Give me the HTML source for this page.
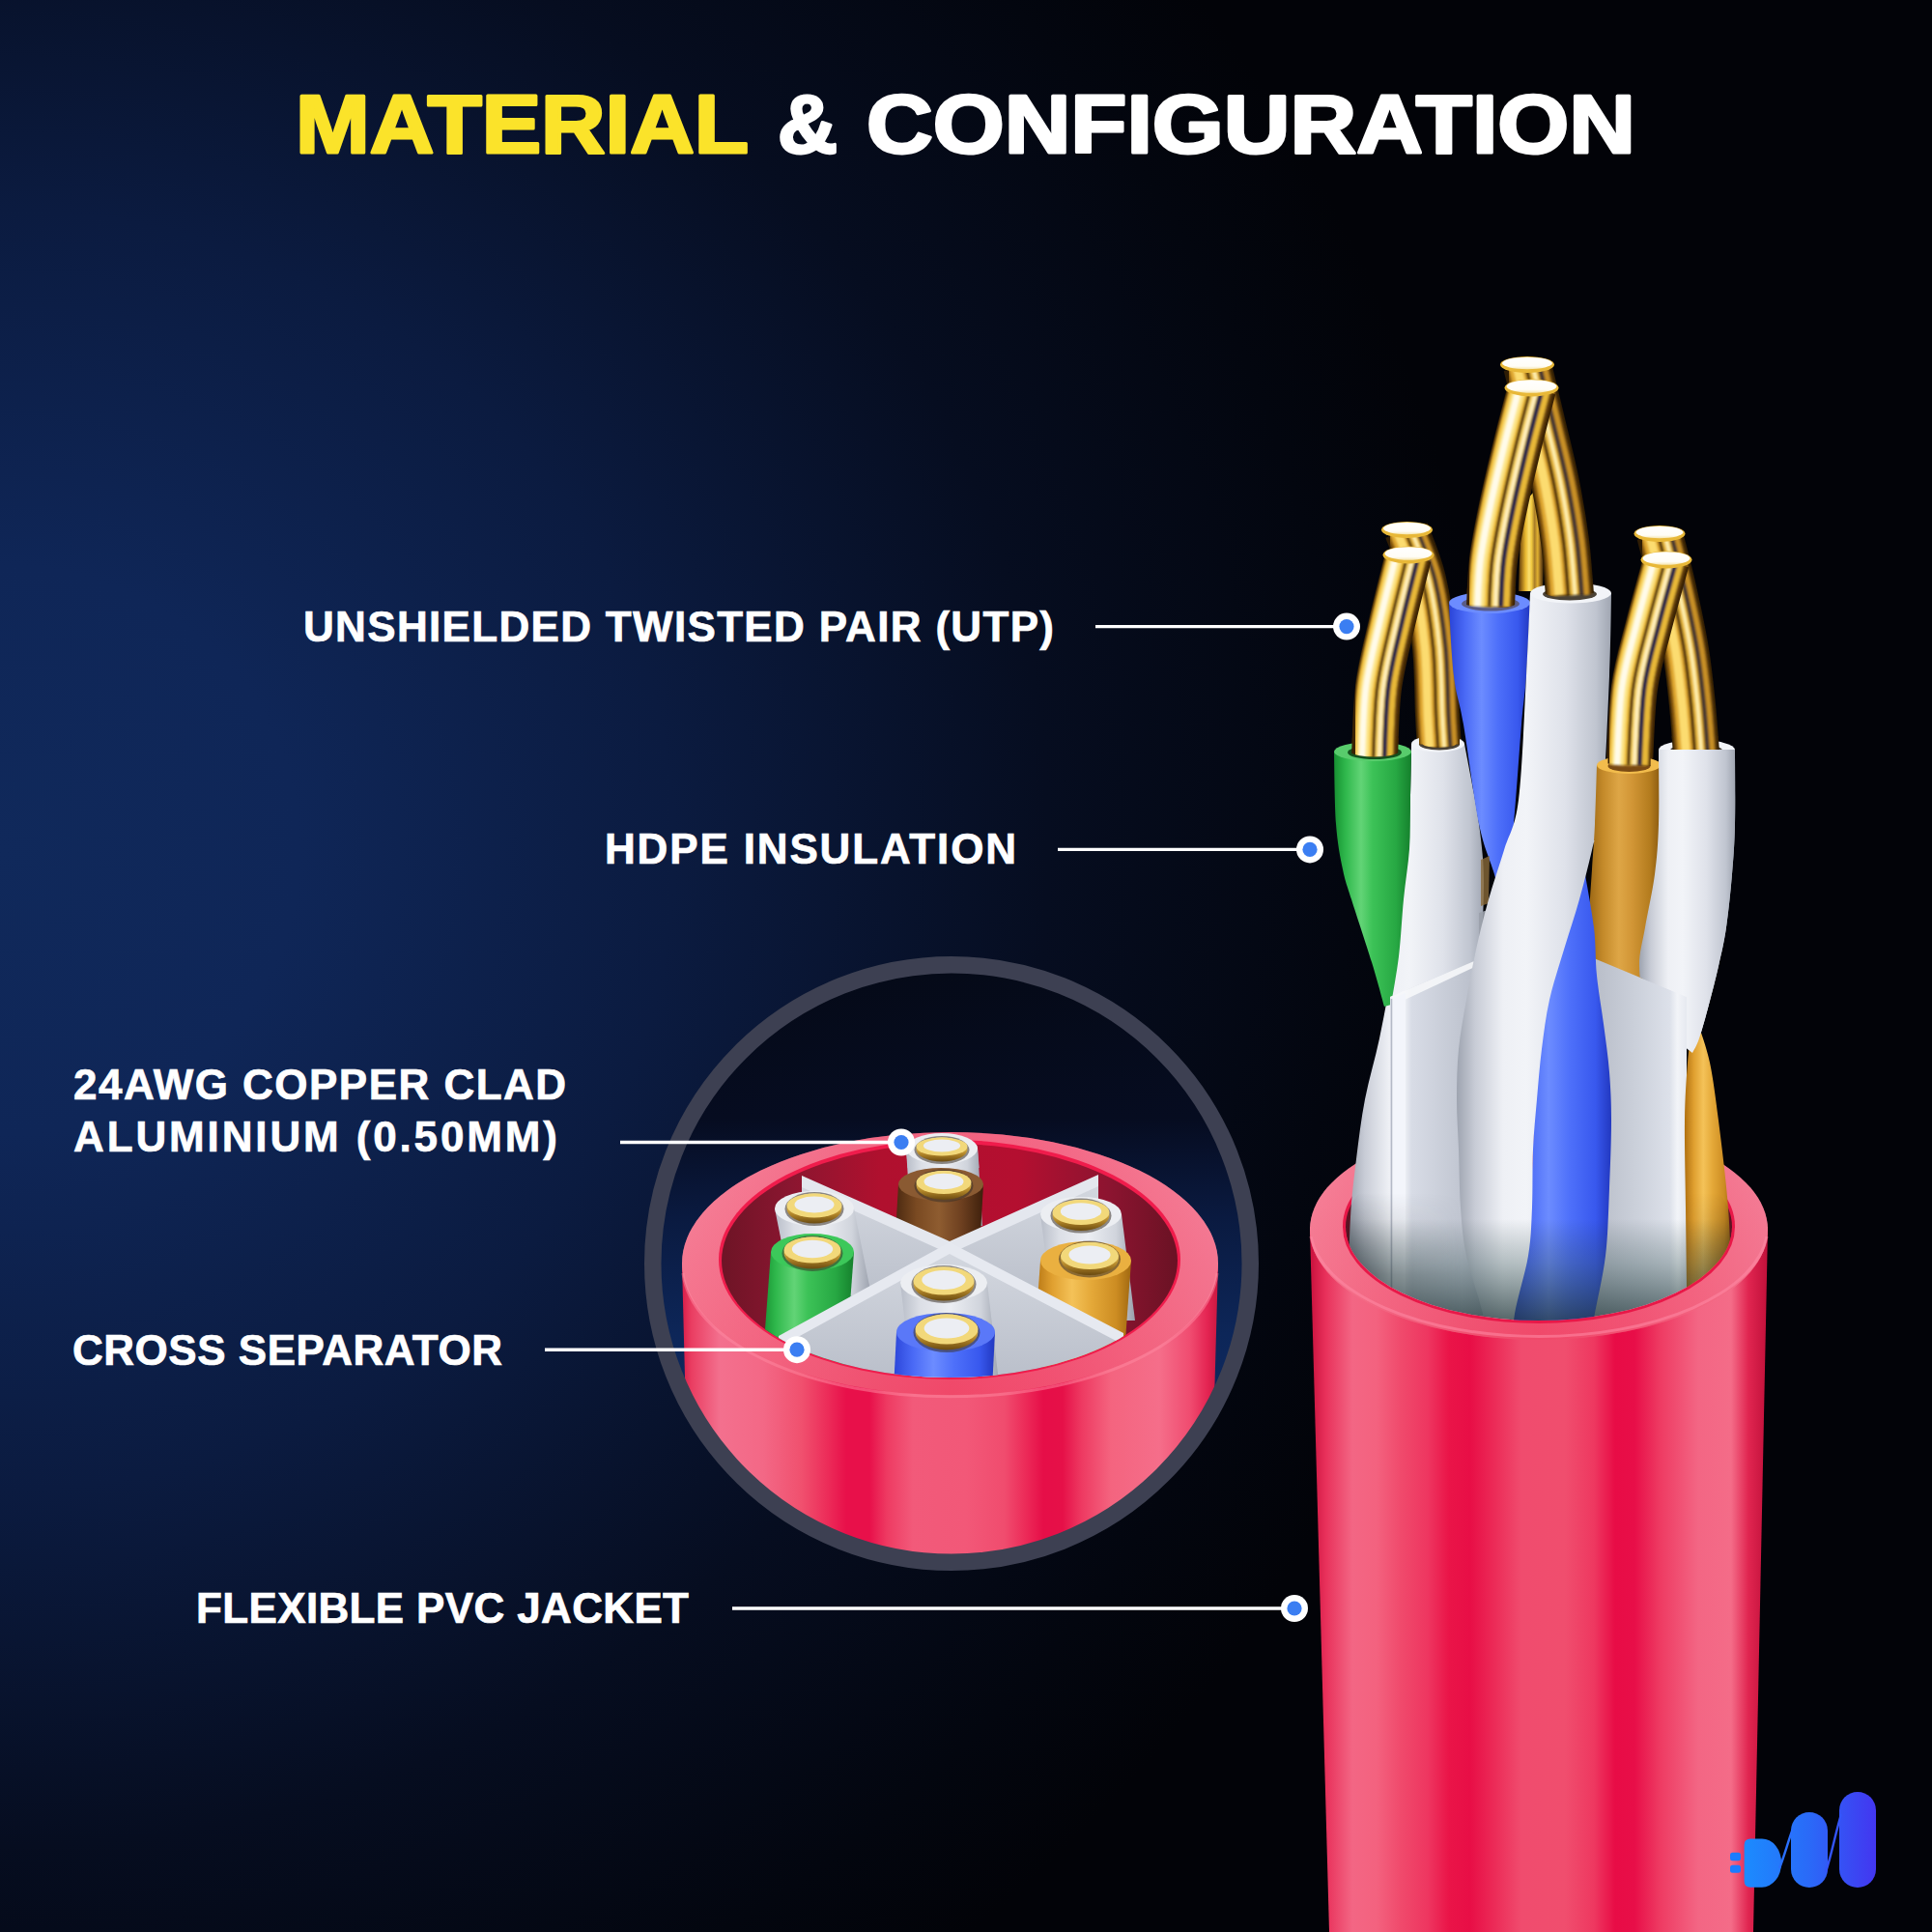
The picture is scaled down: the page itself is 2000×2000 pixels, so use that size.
<!DOCTYPE html>
<html><head><meta charset="utf-8">
<style>
html,body{margin:0;padding:0;background:#03050b;}
body{width:2000px;height:2000px;overflow:hidden;}
svg{display:block;}
.lb{font-family:"Liberation Sans",sans-serif;font-weight:bold;fill:#fff;}
</style></head><body>
<svg width="2000" height="2000" viewBox="0 0 2000 2000">
<defs><radialGradient id="bg" gradientUnits="userSpaceOnUse" cx="0" cy="880" r="1550" gradientTransform="translate(0 880) scale(1 0.95) translate(0 -880)">
<stop offset="0" stop-color="#10295b"/><stop offset="0.2" stop-color="#0f2657"/><stop offset="0.45" stop-color="#0b1b40"/>
<stop offset="0.7" stop-color="#060d20"/><stop offset="0.9" stop-color="#03060f"/><stop offset="1" stop-color="#020308"/></radialGradient>
<linearGradient id="cin" gradientUnits="userSpaceOnUse" x1="0" y1="1007" x2="0" y2="1610">
<stop offset="0" stop-color="#050a18"/><stop offset="0.25" stop-color="#060c20"/><stop offset="0.42" stop-color="#0a1a40"/><stop offset="0.62" stop-color="#0d2658"/><stop offset="1" stop-color="#10306e"/></linearGradient>
<linearGradient id="gold" x1="0" y1="0" x2="1" y2="0"><stop offset="0" stop-color="#5a3a0a"/><stop offset="0.07" stop-color="#b8861e"/><stop offset="0.16" stop-color="#f4cc40"/><stop offset="0.26" stop-color="#fff4b8"/><stop offset="0.33" stop-color="#ffe880"/><stop offset="0.42" stop-color="#d8a828"/><stop offset="0.5" stop-color="#6a5238"/><stop offset="0.56" stop-color="#3c3448"/><stop offset="0.63" stop-color="#a07c30"/><stop offset="0.74" stop-color="#f2c840"/><stop offset="0.84" stop-color="#ffe678"/><stop offset="0.93" stop-color="#c08a1c"/><stop offset="1" stop-color="#5a3a08"/></linearGradient>
<linearGradient id="goldb" x1="0" y1="0" x2="1" y2="0"><stop offset="0" stop-color="#4a300a"/><stop offset="0.12" stop-color="#9a6c18"/><stop offset="0.28" stop-color="#e8b830"/><stop offset="0.42" stop-color="#fce070"/><stop offset="0.52" stop-color="#f0c840"/><stop offset="0.64" stop-color="#a87c28"/><stop offset="0.76" stop-color="#e0b030"/><stop offset="0.88" stop-color="#8a6020"/><stop offset="1" stop-color="#3a2606"/></linearGradient>
<linearGradient id="goldtip" x1="0" y1="0" x2="0" y2="1"><stop offset="0" stop-color="#ffffff"/><stop offset="0.75" stop-color="#fffdf6"/><stop offset="1" stop-color="#f6e6b0"/></linearGradient>
<linearGradient id="goldring" x1="0" y1="0" x2="0" y2="1"><stop offset="0" stop-color="#fff0a8"/><stop offset="0.35" stop-color="#e8c458"/><stop offset="0.7" stop-color="#b08428"/><stop offset="1" stop-color="#6a4a10"/></linearGradient>
<linearGradient id="wht" x1="0" y1="0" x2="1" y2="0"><stop offset="0" stop-color="#9ea4b0"/><stop offset="0.12" stop-color="#c8ccd6"/><stop offset="0.3" stop-color="#eef0f5"/><stop offset="0.45" stop-color="#f2f4f8"/><stop offset="0.7" stop-color="#dfe2ea"/><stop offset="0.9" stop-color="#c0c5d0"/><stop offset="1" stop-color="#a0a6b2"/></linearGradient>
<linearGradient id="wht2" x1="0" y1="0" x2="1" y2="0"><stop offset="0" stop-color="#b8bdc8"/><stop offset="0.2" stop-color="#dcdfe6"/><stop offset="0.5" stop-color="#eceef3"/><stop offset="0.8" stop-color="#d0d4dc"/><stop offset="1" stop-color="#9aa0ac"/></linearGradient>
<linearGradient id="grn" x1="0" y1="0" x2="1" y2="0"><stop offset="0" stop-color="#179032"/><stop offset="0.15" stop-color="#2fb84c"/><stop offset="0.35" stop-color="#62d476"/><stop offset="0.5" stop-color="#3cc257"/><stop offset="0.8" stop-color="#27a843"/><stop offset="1" stop-color="#15802c"/></linearGradient>
<linearGradient id="blu" x1="0" y1="0" x2="1" y2="0"><stop offset="0" stop-color="#2a44d8"/><stop offset="0.2" stop-color="#4a6af6"/><stop offset="0.4" stop-color="#6c8cff"/><stop offset="0.6" stop-color="#4e70fa"/><stop offset="0.85" stop-color="#3858ee"/><stop offset="1" stop-color="#2238c0"/></linearGradient>
<linearGradient id="org" x1="0" y1="0" x2="1" y2="0"><stop offset="0" stop-color="#b07010"/><stop offset="0.2" stop-color="#e0a030"/><stop offset="0.4" stop-color="#f4c258"/><stop offset="0.6" stop-color="#e4a838"/><stop offset="0.85" stop-color="#cc8c22"/><stop offset="1" stop-color="#a06810"/></linearGradient>
<linearGradient id="org2" x1="0" y1="0" x2="1" y2="0"><stop offset="0" stop-color="#9a6614"/><stop offset="0.2" stop-color="#c48a2a"/><stop offset="0.42" stop-color="#dea646"/><stop offset="0.6" stop-color="#d29636"/><stop offset="0.85" stop-color="#b47c1e"/><stop offset="1" stop-color="#8a5a10"/></linearGradient>
<linearGradient id="brn" x1="0" y1="0" x2="1" y2="0"><stop offset="0" stop-color="#4a2810"/><stop offset="0.25" stop-color="#7a4a22"/><stop offset="0.5" stop-color="#8e5c30"/><stop offset="0.75" stop-color="#6e4020"/><stop offset="1" stop-color="#3e200c"/></linearGradient>
<linearGradient id="sepL" x1="0" y1="0" x2="1" y2="0"><stop offset="0" stop-color="#e8ebf2"/><stop offset="0.12" stop-color="#f4f6fa"/><stop offset="0.2" stop-color="#d8dce6"/><stop offset="0.6" stop-color="#c4c9d4"/><stop offset="1" stop-color="#aeb3c0"/></linearGradient>
<linearGradient id="sepR" x1="0" y1="0" x2="1" y2="0"><stop offset="0" stop-color="#b8bdc8"/><stop offset="0.5" stop-color="#cdd2dc"/><stop offset="0.82" stop-color="#dde1ea"/><stop offset="0.9" stop-color="#f2f4f8"/><stop offset="1" stop-color="#e6e9f0"/></linearGradient>
<linearGradient id="sepface" x1="0" y1="0" x2="0" y2="1"><stop offset="0" stop-color="#d4d8e0"/><stop offset="1" stop-color="#a8aebb"/></linearGradient>
<linearGradient id="tube" gradientUnits="userSpaceOnUse" x1="1358" y1="0" x2="1828" y2="0"><stop offset="0.0000" stop-color="#cc1440"/><stop offset="0.0298" stop-color="#e8305a"/><stop offset="0.0894" stop-color="#f36684"/><stop offset="0.1426" stop-color="#f3627f"/><stop offset="0.1957" stop-color="#f04a6c"/><stop offset="0.2553" stop-color="#ee3660"/><stop offset="0.3021" stop-color="#ea1448"/><stop offset="0.3489" stop-color="#e80e46"/><stop offset="0.4043" stop-color="#ec2c58"/><stop offset="0.4617" stop-color="#f04c6e"/><stop offset="0.5574" stop-color="#f04e6e"/><stop offset="0.6213" stop-color="#ee3860"/><stop offset="0.6681" stop-color="#e80c46"/><stop offset="0.7106" stop-color="#e80e48"/><stop offset="0.7660" stop-color="#ee3a62"/><stop offset="0.8511" stop-color="#f36684"/><stop offset="0.9234" stop-color="#f46c88"/><stop offset="0.9617" stop-color="#e02550"/><stop offset="1.0000" stop-color="#c4123c"/></linearGradient>
<linearGradient id="cs" gradientUnits="userSpaceOnUse" x1="706" y1="0" x2="1262" y2="0"><stop offset="0.0000" stop-color="#d81c48"/><stop offset="0.0180" stop-color="#ea3e62"/><stop offset="0.0701" stop-color="#f3708e"/><stop offset="0.1511" stop-color="#f36886"/><stop offset="0.2230" stop-color="#f0506e"/><stop offset="0.2734" stop-color="#ec2a58"/><stop offset="0.3058" stop-color="#e8104a"/><stop offset="0.3489" stop-color="#e8104a"/><stop offset="0.3813" stop-color="#ee3a62"/><stop offset="0.4299" stop-color="#f25a7a"/><stop offset="0.5288" stop-color="#f25878"/><stop offset="0.6007" stop-color="#f04c6e"/><stop offset="0.6403" stop-color="#ec2a58"/><stop offset="0.6727" stop-color="#e60e48"/><stop offset="0.7086" stop-color="#e61048"/><stop offset="0.7446" stop-color="#ee3a62"/><stop offset="0.7986" stop-color="#f4647f"/><stop offset="0.8885" stop-color="#f56e8a"/><stop offset="0.9460" stop-color="#f04c70"/><stop offset="0.9784" stop-color="#e42452"/><stop offset="1.0000" stop-color="#c8163e"/></linearGradient>
<linearGradient id="rim" x1="0" y1="0" x2="1" y2="0"><stop offset="0" stop-color="#f78fa2"/><stop offset="0.15" stop-color="#f47890"/><stop offset="0.35" stop-color="#f05a78"/><stop offset="0.5" stop-color="#f04c6c"/><stop offset="0.7" stop-color="#f25a7a"/><stop offset="0.88" stop-color="#f47890"/><stop offset="1" stop-color="#f48aa0"/></linearGradient>
<linearGradient id="rimv" x1="0" y1="0" x2="0" y2="1"><stop offset="0" stop-color="#f57e98"/><stop offset="0.5" stop-color="#f25c7c"/><stop offset="1" stop-color="#f04466"/></linearGradient>
<linearGradient id="innerwall" x1="0" y1="0" x2="1" y2="0"><stop offset="0" stop-color="#6e1426"/><stop offset="0.15" stop-color="#8a1630"/><stop offset="0.35" stop-color="#b0102e"/><stop offset="0.65" stop-color="#b40f30"/><stop offset="0.85" stop-color="#8c1430"/><stop offset="1" stop-color="#6a1224"/></linearGradient>
<filter id="soft" x="-10%" y="-10%" width="120%" height="120%"><feGaussianBlur stdDeviation="0.9"/></filter>
<clipPath id="cclip"><circle cx="985" cy="1308" r="301.5"/></clipPath>
<clipPath id="iclip"><ellipse cx="983" cy="1305" rx="236" ry="121"/></clipPath>
<clipPath id="topw"><rect x="900" y="1150" width="160" height="59"/></clipPath>
<clipPath id="hc1"><ellipse cx="1490.0" cy="769.0" rx="18.5" ry="5.0"/><rect x="1469.0" y="757" width="42.0" height="13.5"/></clipPath>
<clipPath id="hc2"><ellipse cx="1423.0" cy="777.5" rx="25.5" ry="6.0"/><rect x="1395.0" y="764" width="56.0" height="15.0"/></clipPath>
<clipPath id="hc3"><ellipse cx="1543.0" cy="623.5" rx="27.5" ry="6.5"/><rect x="1513.0" y="609" width="60.0" height="16.0"/></clipPath>
<clipPath id="hc4"><ellipse cx="1756.0" cy="775.5" rx="24.5" ry="6.0"/><rect x="1729.0" y="762" width="54.0" height="15.0"/></clipPath>
<clipPath id="hc5"><ellipse cx="1686.5" cy="791.5" rx="19.5" ry="5.0"/><rect x="1664.5" y="779" width="44.0" height="14.0"/></clipPath>
<clipPath id="hc6"><ellipse cx="1625.0" cy="613.5" rx="25.5" ry="5.5"/><rect x="1597.0" y="599" width="56.0" height="16.0"/></clipPath>
<clipPath id="orgtop"><rect x="1640" y="700" width="90" height="170"/></clipPath>
<clipPath id="rwup"><path d="M1690,700 L1812,700 L1812,1120 L1746.5,1120 L1746.5,1032 L1690,1008.7 Z"/></clipPath>
<clipPath id="jclip"><ellipse cx="1593" cy="1270" rx="200" ry="97"/></clipPath>
<linearGradient id="opensh" x1="0" y1="0" x2="0" y2="1"><stop offset="0" stop-color="#203838" stop-opacity="0"/><stop offset="0.4" stop-color="#2a4848" stop-opacity="0.3"/><stop offset="1" stop-color="#1a2e30" stop-opacity="0.78"/></linearGradient>
<linearGradient id="opensh2" x1="0" y1="0" x2="1" y2="0"><stop offset="0" stop-color="#0a1014" stop-opacity="0.55"/><stop offset="0.12" stop-color="#141c20" stop-opacity="0.25"/><stop offset="0.3" stop-color="#141c20" stop-opacity="0"/><stop offset="0.85" stop-color="#141c20" stop-opacity="0"/><stop offset="1" stop-color="#0a1014" stop-opacity="0.45"/></linearGradient>
<linearGradient id="vfadeG" gradientUnits="userSpaceOnUse" x1="0" y1="1235" x2="0" y2="1320"><stop offset="0" stop-color="#000"/><stop offset="1" stop-color="#fff"/></linearGradient>
<mask id="vfade" maskUnits="userSpaceOnUse" x="1380" y="1150" width="430" height="260"><rect x="1380" y="1150" width="430" height="260" fill="url(#vfadeG)"/></mask>
<mask id="tmask" maskUnits="userSpaceOnUse" x="0" y="0" width="2000" height="2000"><rect x="0" y="0" width="2000" height="2000" fill="#fff"/><ellipse cx="1593" cy="1270" rx="200" ry="97" fill="#000"/></mask>
<clipPath id="tclip"><rect x="1300" y="1270" width="600" height="800"/></clipPath>
<linearGradient id="logo" gradientUnits="userSpaceOnUse" x1="1800" y1="0" x2="1945" y2="0"><stop offset="0" stop-color="#1a8eff"/><stop offset="0.5" stop-color="#2a6af8"/><stop offset="1" stop-color="#4434f0"/></linearGradient></defs>
<rect x="0" y="0" width="2000" height="2000" fill="url(#bg)"/>
<circle cx="985" cy="1308" r="301.5" fill="url(#cin)"/>
<g clip-path="url(#cclip)"><path d="M706,1308 L716,1700 L1250,1700 L1261,1308 Z" fill="url(#cs)"/><ellipse cx="983.5" cy="1308" rx="277.5" ry="136" fill="url(#rim)"/><ellipse cx="983.5" cy="1308" rx="277.5" ry="136" fill="url(#rimv)" opacity="0.45"/><path d="M707,1318 A277,136 0 0 0 1260,1318" fill="none" stroke="#ff8aa2" stroke-width="3" opacity="0.5"/><ellipse cx="983" cy="1304" rx="239" ry="124" fill="#f01c4c"/><ellipse cx="983" cy="1305" rx="236" ry="121" fill="url(#innerwall)"/><g clip-path="url(#iclip)"><path d="M938.0,1189.0 L943.0,1269.0 L1017.0,1269.0 L1012.0,1189.0 Z" fill="url(#wht2)"/><ellipse cx="975.0" cy="1189.0" rx="37.0" ry="16.0" fill="#eceef2"/><ellipse cx="975.0" cy="1190.5" rx="28.5" ry="14.5" fill="#3a3228" opacity="0.55"/><ellipse cx="975.0" cy="1190.0" rx="26.5" ry="12.5" fill="url(#goldring)"/><ellipse cx="975.0" cy="1187.0" rx="26.5" ry="9.5" fill="#f2d87a"/><ellipse cx="975.0" cy="1186.0" rx="19.1" ry="6.5" fill="#eceef3"/><path d="M930.0,1226.0 L926.0,1296.0 L1014.0,1296.0 L1018.0,1226.0 Z" fill="url(#brn)"/><ellipse cx="974.0" cy="1226.0" rx="44.0" ry="17.0" fill="#8a5a32"/><ellipse cx="977.0" cy="1227.5" rx="30.5" ry="17.0" fill="#3a3228" opacity="0.55"/><ellipse cx="977.0" cy="1227.0" rx="28.5" ry="15.0" fill="url(#goldring)"/><ellipse cx="977.0" cy="1224.0" rx="28.5" ry="12.0" fill="#f2d87a"/><ellipse cx="977.0" cy="1223.0" rx="20.5" ry="8.2" fill="#eceef3"/><path d="M830,1223 L983,1292 L983,1430 L830,1360 Z" fill="url(#sepface)"/><path d="M1137,1222 L983,1292 L983,1430 L1137,1360 Z" fill="url(#sepface)"/><path d="M830,1217 L983,1285 L1137,1216 L1137,1228 L983,1298 L830,1229 Z" fill="#e4e7ee"/><path d="M802.0,1251.0 L820.0,1341.0 L902.0,1341.0 L884.0,1251.0 Z" fill="url(#wht2)"/><ellipse cx="843.0" cy="1251.0" rx="41.0" ry="18.0" fill="#eceef2"/><ellipse cx="843.0" cy="1251.5" rx="30.5" ry="17.5" fill="#3a3228" opacity="0.55"/><ellipse cx="843.0" cy="1251.0" rx="28.5" ry="15.5" fill="url(#goldring)"/><ellipse cx="843.0" cy="1248.0" rx="28.5" ry="12.5" fill="#f2d87a"/><ellipse cx="843.0" cy="1247.0" rx="20.5" ry="8.5" fill="#eceef3"/><path d="M798.0,1296.0 L789.0,1416.0 L875.0,1416.0 L884.0,1296.0 Z" fill="url(#grn)"/><ellipse cx="841.0" cy="1296.0" rx="43.0" ry="19.0" fill="#3cc85a"/><ellipse cx="841.0" cy="1297.5" rx="31.5" ry="18.5" fill="#3a3228" opacity="0.55"/><ellipse cx="841.0" cy="1297.0" rx="29.5" ry="16.5" fill="url(#goldring)"/><ellipse cx="841.0" cy="1294.0" rx="29.5" ry="13.5" fill="#f2d87a"/><ellipse cx="841.0" cy="1293.0" rx="21.2" ry="9.2" fill="#eceef3"/><path d="M1077.0,1257.0 L1091.0,1367.0 L1175.0,1367.0 L1161.0,1257.0 Z" fill="url(#wht2)"/><ellipse cx="1119.0" cy="1257.0" rx="42.0" ry="18.0" fill="#eceef2"/><ellipse cx="1119.0" cy="1258.5" rx="31.5" ry="18.0" fill="#3a3228" opacity="0.55"/><ellipse cx="1119.0" cy="1258.0" rx="29.5" ry="16.0" fill="url(#goldring)"/><ellipse cx="1119.0" cy="1255.0" rx="29.5" ry="13.0" fill="#f2d87a"/><ellipse cx="1119.0" cy="1254.0" rx="21.2" ry="8.8" fill="#eceef3"/><path d="M1077.0,1305.0 L1069.0,1415.0 L1163.0,1415.0 L1171.0,1305.0 Z" fill="url(#org)"/><ellipse cx="1124.0" cy="1305.0" rx="47.0" ry="20.0" fill="#eab040"/><ellipse cx="1128.0" cy="1303.5" rx="32.0" ry="19.0" fill="#3a3228" opacity="0.55"/><ellipse cx="1128.0" cy="1303.0" rx="30.0" ry="17.0" fill="url(#goldring)"/><ellipse cx="1128.0" cy="1300.0" rx="30.0" ry="14.0" fill="#f2d87a"/><ellipse cx="1128.0" cy="1299.0" rx="21.6" ry="9.5" fill="#eceef3"/><path d="M806,1389 L983,1292 L983,1460 L806,1520 Z" fill="url(#sepface)"/><path d="M1163,1386 L983,1292 L983,1460 L1163,1520 Z" fill="url(#sepface)"/><path d="M806,1383 L983,1286 L1163,1380 L1163,1392 L983,1298 L806,1395 Z" fill="#e6e9f0"/><path d="M932.0,1328.0 L946.0,1448.0 L1036.0,1448.0 L1022.0,1328.0 Z" fill="url(#wht2)"/><ellipse cx="977.0" cy="1328.0" rx="45.0" ry="19.0" fill="#eceef2"/><ellipse cx="977.0" cy="1329.5" rx="33.5" ry="19.5" fill="#3a3228" opacity="0.55"/><ellipse cx="977.0" cy="1329.0" rx="31.5" ry="17.5" fill="url(#goldring)"/><ellipse cx="977.0" cy="1326.0" rx="31.5" ry="14.5" fill="#f2d87a"/><ellipse cx="977.0" cy="1325.0" rx="22.7" ry="9.9" fill="#eceef3"/><path d="M928.0,1379.0 L924.0,1459.0 L1026.0,1459.0 L1030.0,1379.0 Z" fill="url(#blu)"/><ellipse cx="979.0" cy="1379.0" rx="51.0" ry="20.0" fill="#5a78f8"/><ellipse cx="980.0" cy="1379.5" rx="34.5" ry="20.5" fill="#3a3228" opacity="0.55"/><ellipse cx="980.0" cy="1379.0" rx="32.5" ry="18.5" fill="url(#goldring)"/><ellipse cx="980.0" cy="1376.0" rx="32.5" ry="15.5" fill="#f2d87a"/><ellipse cx="980.0" cy="1375.0" rx="23.4" ry="10.5" fill="#eceef3"/></g><g clip-path="url(#topw)"><path d="M938.0,1189.0 L943.0,1249.0 L1017.0,1249.0 L1012.0,1189.0 Z" fill="url(#wht2)"/><ellipse cx="975.0" cy="1189.0" rx="37.0" ry="16.0" fill="#eceef2"/><ellipse cx="975.0" cy="1190.5" rx="28.5" ry="14.5" fill="#3a3228" opacity="0.55"/><ellipse cx="975.0" cy="1190.0" rx="26.5" ry="12.5" fill="url(#goldring)"/><ellipse cx="975.0" cy="1187.0" rx="26.5" ry="9.5" fill="#f2d87a"/><ellipse cx="975.0" cy="1186.0" rx="19.1" ry="6.5" fill="#eceef3"/></g></g>
<circle cx="985" cy="1308" r="309.25" fill="none" stroke="#3d4052" stroke-width="17.5"/>
<ellipse cx="1593" cy="1273" rx="237" ry="114" fill="url(#rim)"/><ellipse cx="1593" cy="1273" rx="237" ry="114" fill="url(#rimv)" opacity="0.4"/><ellipse cx="1593" cy="1269" rx="203" ry="100" fill="#e81848"/><ellipse cx="1593" cy="1270" rx="200" ry="97" fill="url(#innerwall)"/><path d="M1578.0,520.0 C1577.3,526.7 1575.0,544.7 1574.0,560.0 C1573.0,575.3 1572.3,603.3 1572.0,612.0 L1597.0,612.0 C1597.2,603.3 1598.2,578.7 1598.0,560.0 C1597.8,541.3 1596.3,510.0 1596.0,500.0 Z" fill="url(#goldb)"/><path d="M1581.0,378.0 C1583.5,388.3 1591.2,419.7 1596.0,440.0 C1600.8,460.3 1606.0,480.0 1610.0,500.0 C1614.0,520.0 1617.5,540.7 1620.0,560.0 C1622.5,579.3 1624.2,606.7 1625.0,616.0 " fill="none" stroke="#2e1c04" stroke-width="50.0"/><g filter="url(#soft)"><path d="M1581.0,378.0 C1583.5,388.3 1591.2,419.7 1596.0,440.0 C1600.8,460.3 1606.0,480.0 1610.0,500.0 C1614.0,520.0 1617.5,540.7 1620.0,560.0 C1622.5,579.3 1624.2,606.7 1625.0,616.0 " fill="none" stroke="#8a5a10" stroke-width="44.0" transform="translate(-1.0 0)"/><path d="M1581.0,378.0 C1583.5,388.3 1591.2,419.7 1596.0,440.0 C1600.8,460.3 1606.0,480.0 1610.0,500.0 C1614.0,520.0 1617.5,540.7 1620.0,560.0 C1622.5,579.3 1624.2,606.7 1625.0,616.0 " fill="none" stroke="#e0a830" stroke-width="21.0" transform="translate(-9.0 0)"/><path d="M1581.0,378.0 C1583.5,388.3 1591.2,419.7 1596.0,440.0 C1600.8,460.3 1606.0,480.0 1610.0,500.0 C1614.0,520.0 1617.5,540.7 1620.0,560.0 C1622.5,579.3 1624.2,606.7 1625.0,616.0 " fill="none" stroke="#fcdc70" stroke-width="9.0" transform="translate(-11.0 0)"/><path d="M1581.0,378.0 C1583.5,388.3 1591.2,419.7 1596.0,440.0 C1600.8,460.3 1606.0,480.0 1610.0,500.0 C1614.0,520.0 1617.5,540.7 1620.0,560.0 C1622.5,579.3 1624.2,606.7 1625.0,616.0 " fill="none" stroke="#5a3a0a" stroke-width="5.0" transform="translate(-1.0 0)"/><path d="M1581.0,378.0 C1583.5,388.3 1591.2,419.7 1596.0,440.0 C1600.8,460.3 1606.0,480.0 1610.0,500.0 C1614.0,520.0 1617.5,540.7 1620.0,560.0 C1622.5,579.3 1624.2,606.7 1625.0,616.0 " fill="none" stroke="#e8b840" stroke-width="9.0" transform="translate(5.0 0)"/><path d="M1581.0,378.0 C1583.5,388.3 1591.2,419.7 1596.0,440.0 C1600.8,460.3 1606.0,480.0 1610.0,500.0 C1614.0,520.0 1617.5,540.7 1620.0,560.0 C1622.5,579.3 1624.2,606.7 1625.0,616.0 " fill="none" stroke="#fff0b0" stroke-width="3.5" transform="translate(5.5 0)"/><path d="M1581.0,378.0 C1583.5,388.3 1591.2,419.7 1596.0,440.0 C1600.8,460.3 1606.0,480.0 1610.0,500.0 C1614.0,520.0 1617.5,540.7 1620.0,560.0 C1622.5,579.3 1624.2,606.7 1625.0,616.0 " fill="none" stroke="#4a3a30" stroke-width="4.5" transform="translate(12.5 0)"/><path d="M1581.0,378.0 C1583.5,388.3 1591.2,419.7 1596.0,440.0 C1600.8,460.3 1606.0,480.0 1610.0,500.0 C1614.0,520.0 1617.5,540.7 1620.0,560.0 C1622.5,579.3 1624.2,606.7 1625.0,616.0 " fill="none" stroke="#c89028" stroke-width="5.0" transform="translate(17.5 0)"/><path d="M1581.0,378.0 C1583.5,388.3 1591.2,419.7 1596.0,440.0 C1600.8,460.3 1606.0,480.0 1610.0,500.0 C1614.0,520.0 1617.5,540.7 1620.0,560.0 C1622.5,579.3 1624.2,606.7 1625.0,616.0 " fill="none" stroke="#5a3a08" stroke-width="2.5" transform="translate(22.0 0)"/></g><ellipse cx="1581.0" cy="377.5" rx="28.0" ry="8.5" fill="#e8b838"/><ellipse cx="1581.0" cy="376.0" rx="26.0" ry="6.2" fill="url(#goldtip)"/><path d="M1456.0,549.0 C1459.0,557.5 1469.2,579.8 1474.0,600.0 C1478.8,620.2 1482.7,646.7 1485.0,670.0 C1487.3,693.3 1487.2,722.7 1488.0,740.0 C1488.8,757.3 1489.7,768.3 1490.0,774.0 " fill="none" stroke="#2e1c04" stroke-width="46.0"/><g filter="url(#soft)"><path d="M1456.0,549.0 C1459.0,557.5 1469.2,579.8 1474.0,600.0 C1478.8,620.2 1482.7,646.7 1485.0,670.0 C1487.3,693.3 1487.2,722.7 1488.0,740.0 C1488.8,757.3 1489.7,768.3 1490.0,774.0 " fill="none" stroke="#8a5a10" stroke-width="40.5" transform="translate(-0.9 0)"/><path d="M1456.0,549.0 C1459.0,557.5 1469.2,579.8 1474.0,600.0 C1478.8,620.2 1482.7,646.7 1485.0,670.0 C1487.3,693.3 1487.2,722.7 1488.0,740.0 C1488.8,757.3 1489.7,768.3 1490.0,774.0 " fill="none" stroke="#e0a830" stroke-width="19.3" transform="translate(-8.3 0)"/><path d="M1456.0,549.0 C1459.0,557.5 1469.2,579.8 1474.0,600.0 C1478.8,620.2 1482.7,646.7 1485.0,670.0 C1487.3,693.3 1487.2,722.7 1488.0,740.0 C1488.8,757.3 1489.7,768.3 1490.0,774.0 " fill="none" stroke="#fcdc70" stroke-width="8.3" transform="translate(-10.1 0)"/><path d="M1456.0,549.0 C1459.0,557.5 1469.2,579.8 1474.0,600.0 C1478.8,620.2 1482.7,646.7 1485.0,670.0 C1487.3,693.3 1487.2,722.7 1488.0,740.0 C1488.8,757.3 1489.7,768.3 1490.0,774.0 " fill="none" stroke="#5a3a0a" stroke-width="4.6" transform="translate(-0.9 0)"/><path d="M1456.0,549.0 C1459.0,557.5 1469.2,579.8 1474.0,600.0 C1478.8,620.2 1482.7,646.7 1485.0,670.0 C1487.3,693.3 1487.2,722.7 1488.0,740.0 C1488.8,757.3 1489.7,768.3 1490.0,774.0 " fill="none" stroke="#e8b840" stroke-width="8.3" transform="translate(4.6 0)"/><path d="M1456.0,549.0 C1459.0,557.5 1469.2,579.8 1474.0,600.0 C1478.8,620.2 1482.7,646.7 1485.0,670.0 C1487.3,693.3 1487.2,722.7 1488.0,740.0 C1488.8,757.3 1489.7,768.3 1490.0,774.0 " fill="none" stroke="#fff0b0" stroke-width="3.2" transform="translate(5.1 0)"/><path d="M1456.0,549.0 C1459.0,557.5 1469.2,579.8 1474.0,600.0 C1478.8,620.2 1482.7,646.7 1485.0,670.0 C1487.3,693.3 1487.2,722.7 1488.0,740.0 C1488.8,757.3 1489.7,768.3 1490.0,774.0 " fill="none" stroke="#4a3a30" stroke-width="4.1" transform="translate(11.5 0)"/><path d="M1456.0,549.0 C1459.0,557.5 1469.2,579.8 1474.0,600.0 C1478.8,620.2 1482.7,646.7 1485.0,670.0 C1487.3,693.3 1487.2,722.7 1488.0,740.0 C1488.8,757.3 1489.7,768.3 1490.0,774.0 " fill="none" stroke="#c89028" stroke-width="4.6" transform="translate(16.1 0)"/><path d="M1456.0,549.0 C1459.0,557.5 1469.2,579.8 1474.0,600.0 C1478.8,620.2 1482.7,646.7 1485.0,670.0 C1487.3,693.3 1487.2,722.7 1488.0,740.0 C1488.8,757.3 1489.7,768.3 1490.0,774.0 " fill="none" stroke="#5a3a08" stroke-width="2.3" transform="translate(20.2 0)"/></g><ellipse cx="1456.5" cy="548.5" rx="26.5" ry="8.5" fill="#e8b838"/><ellipse cx="1456.5" cy="547.0" rx="24.5" ry="6.2" fill="url(#goldtip)"/><path d="M1718.0,553.0 C1720.3,562.3 1727.5,589.0 1732.0,609.0 C1736.5,629.0 1741.7,652.8 1745.0,673.0 C1748.3,693.2 1750.2,712.2 1752.0,730.0 C1753.8,747.8 1755.3,771.7 1756.0,780.0 " fill="none" stroke="#2e1c04" stroke-width="48.0"/><g filter="url(#soft)"><path d="M1718.0,553.0 C1720.3,562.3 1727.5,589.0 1732.0,609.0 C1736.5,629.0 1741.7,652.8 1745.0,673.0 C1748.3,693.2 1750.2,712.2 1752.0,730.0 C1753.8,747.8 1755.3,771.7 1756.0,780.0 " fill="none" stroke="#8a5a10" stroke-width="42.2" transform="translate(-1.0 0)"/><path d="M1718.0,553.0 C1720.3,562.3 1727.5,589.0 1732.0,609.0 C1736.5,629.0 1741.7,652.8 1745.0,673.0 C1748.3,693.2 1750.2,712.2 1752.0,730.0 C1753.8,747.8 1755.3,771.7 1756.0,780.0 " fill="none" stroke="#e0a830" stroke-width="20.2" transform="translate(-8.6 0)"/><path d="M1718.0,553.0 C1720.3,562.3 1727.5,589.0 1732.0,609.0 C1736.5,629.0 1741.7,652.8 1745.0,673.0 C1748.3,693.2 1750.2,712.2 1752.0,730.0 C1753.8,747.8 1755.3,771.7 1756.0,780.0 " fill="none" stroke="#fcdc70" stroke-width="8.6" transform="translate(-10.6 0)"/><path d="M1718.0,553.0 C1720.3,562.3 1727.5,589.0 1732.0,609.0 C1736.5,629.0 1741.7,652.8 1745.0,673.0 C1748.3,693.2 1750.2,712.2 1752.0,730.0 C1753.8,747.8 1755.3,771.7 1756.0,780.0 " fill="none" stroke="#5a3a0a" stroke-width="4.8" transform="translate(-1.0 0)"/><path d="M1718.0,553.0 C1720.3,562.3 1727.5,589.0 1732.0,609.0 C1736.5,629.0 1741.7,652.8 1745.0,673.0 C1748.3,693.2 1750.2,712.2 1752.0,730.0 C1753.8,747.8 1755.3,771.7 1756.0,780.0 " fill="none" stroke="#e8b840" stroke-width="8.6" transform="translate(4.8 0)"/><path d="M1718.0,553.0 C1720.3,562.3 1727.5,589.0 1732.0,609.0 C1736.5,629.0 1741.7,652.8 1745.0,673.0 C1748.3,693.2 1750.2,712.2 1752.0,730.0 C1753.8,747.8 1755.3,771.7 1756.0,780.0 " fill="none" stroke="#fff0b0" stroke-width="3.4" transform="translate(5.3 0)"/><path d="M1718.0,553.0 C1720.3,562.3 1727.5,589.0 1732.0,609.0 C1736.5,629.0 1741.7,652.8 1745.0,673.0 C1748.3,693.2 1750.2,712.2 1752.0,730.0 C1753.8,747.8 1755.3,771.7 1756.0,780.0 " fill="none" stroke="#4a3a30" stroke-width="4.3" transform="translate(12.0 0)"/><path d="M1718.0,553.0 C1720.3,562.3 1727.5,589.0 1732.0,609.0 C1736.5,629.0 1741.7,652.8 1745.0,673.0 C1748.3,693.2 1750.2,712.2 1752.0,730.0 C1753.8,747.8 1755.3,771.7 1756.0,780.0 " fill="none" stroke="#c89028" stroke-width="4.8" transform="translate(16.8 0)"/><path d="M1718.0,553.0 C1720.3,562.3 1727.5,589.0 1732.0,609.0 C1736.5,629.0 1741.7,652.8 1745.0,673.0 C1748.3,693.2 1750.2,712.2 1752.0,730.0 C1753.8,747.8 1755.3,771.7 1756.0,780.0 " fill="none" stroke="#5a3a08" stroke-width="2.4" transform="translate(21.1 0)"/></g><ellipse cx="1718.0" cy="552.5" rx="26.5" ry="8.5" fill="#e8b838"/><ellipse cx="1718.0" cy="551.0" rx="24.5" ry="6.2" fill="url(#goldtip)"/><path d="M1586.0,402.0 C1583.5,411.7 1576.0,439.5 1571.0,460.0 C1566.0,480.5 1560.2,505.0 1556.0,525.0 C1551.8,545.0 1548.2,562.8 1546.0,580.0 C1543.8,597.2 1543.5,620.0 1543.0,628.0 " fill="none" stroke="#3a2204" stroke-width="50.0"/><g filter="url(#soft)"><path d="M1586.0,402.0 C1583.5,411.7 1576.0,439.5 1571.0,460.0 C1566.0,480.5 1560.2,505.0 1556.0,525.0 C1551.8,545.0 1548.2,562.8 1546.0,580.0 C1543.8,597.2 1543.5,620.0 1543.0,628.0 " fill="none" stroke="#a87418" stroke-width="45.0" transform="translate(-1.0 0)"/><path d="M1586.0,402.0 C1583.5,411.7 1576.0,439.5 1571.0,460.0 C1566.0,480.5 1560.2,505.0 1556.0,525.0 C1551.8,545.0 1548.2,562.8 1546.0,580.0 C1543.8,597.2 1543.5,620.0 1543.0,628.0 " fill="none" stroke="#f0c040" stroke-width="25.0" transform="translate(-10.0 0)"/><path d="M1586.0,402.0 C1583.5,411.7 1576.0,439.5 1571.0,460.0 C1566.0,480.5 1560.2,505.0 1556.0,525.0 C1551.8,545.0 1548.2,562.8 1546.0,580.0 C1543.8,597.2 1543.5,620.0 1543.0,628.0 " fill="none" stroke="#fde68a" stroke-width="13.0" transform="translate(-13.0 0)"/><path d="M1586.0,402.0 C1583.5,411.7 1576.0,439.5 1571.0,460.0 C1566.0,480.5 1560.2,505.0 1556.0,525.0 C1551.8,545.0 1548.2,562.8 1546.0,580.0 C1543.8,597.2 1543.5,620.0 1543.0,628.0 " fill="none" stroke="#fffbe8" stroke-width="6.5" transform="translate(-13.5 0)"/><path d="M1586.0,402.0 C1583.5,411.7 1576.0,439.5 1571.0,460.0 C1566.0,480.5 1560.2,505.0 1556.0,525.0 C1551.8,545.0 1548.2,562.8 1546.0,580.0 C1543.8,597.2 1543.5,620.0 1543.0,628.0 " fill="none" stroke="#5a3808" stroke-width="4.5" transform="translate(-1.0 0)"/><path d="M1586.0,402.0 C1583.5,411.7 1576.0,439.5 1571.0,460.0 C1566.0,480.5 1560.2,505.0 1556.0,525.0 C1551.8,545.0 1548.2,562.8 1546.0,580.0 C1543.8,597.2 1543.5,620.0 1543.0,628.0 " fill="none" stroke="#f6d060" stroke-width="8.0" transform="translate(4.5 0)"/><path d="M1586.0,402.0 C1583.5,411.7 1576.0,439.5 1571.0,460.0 C1566.0,480.5 1560.2,505.0 1556.0,525.0 C1551.8,545.0 1548.2,562.8 1546.0,580.0 C1543.8,597.2 1543.5,620.0 1543.0,628.0 " fill="none" stroke="#fff0c0" stroke-width="3.5" transform="translate(5.0 0)"/><path d="M1586.0,402.0 C1583.5,411.7 1576.0,439.5 1571.0,460.0 C1566.0,480.5 1560.2,505.0 1556.0,525.0 C1551.8,545.0 1548.2,562.8 1546.0,580.0 C1543.8,597.2 1543.5,620.0 1543.0,628.0 " fill="none" stroke="#2e2a48" stroke-width="5.0" transform="translate(10.5 0)"/><path d="M1586.0,402.0 C1583.5,411.7 1576.0,439.5 1571.0,460.0 C1566.0,480.5 1560.2,505.0 1556.0,525.0 C1551.8,545.0 1548.2,562.8 1546.0,580.0 C1543.8,597.2 1543.5,620.0 1543.0,628.0 " fill="none" stroke="#e8b838" stroke-width="6.0" transform="translate(16.5 0)"/><path d="M1586.0,402.0 C1583.5,411.7 1576.0,439.5 1571.0,460.0 C1566.0,480.5 1560.2,505.0 1556.0,525.0 C1551.8,545.0 1548.2,562.8 1546.0,580.0 C1543.8,597.2 1543.5,620.0 1543.0,628.0 " fill="none" stroke="#6a4410" stroke-width="3.0" transform="translate(21.0 0)"/></g><ellipse cx="1585.5" cy="401.5" rx="28.0" ry="9.0" fill="#e8b838"/><ellipse cx="1585.5" cy="400.0" rx="26.0" ry="6.7" fill="url(#goldtip)"/><path d="M1458.0,576.0 C1455.2,587.5 1446.2,622.3 1441.0,645.0 C1435.8,667.7 1430.0,688.8 1427.0,712.0 C1424.0,735.2 1423.7,772.0 1423.0,784.0 " fill="none" stroke="#3a2204" stroke-width="48.0"/><g filter="url(#soft)"><path d="M1458.0,576.0 C1455.2,587.5 1446.2,622.3 1441.0,645.0 C1435.8,667.7 1430.0,688.8 1427.0,712.0 C1424.0,735.2 1423.7,772.0 1423.0,784.0 " fill="none" stroke="#a87418" stroke-width="43.2" transform="translate(-1.0 0)"/><path d="M1458.0,576.0 C1455.2,587.5 1446.2,622.3 1441.0,645.0 C1435.8,667.7 1430.0,688.8 1427.0,712.0 C1424.0,735.2 1423.7,772.0 1423.0,784.0 " fill="none" stroke="#f0c040" stroke-width="24.0" transform="translate(-9.6 0)"/><path d="M1458.0,576.0 C1455.2,587.5 1446.2,622.3 1441.0,645.0 C1435.8,667.7 1430.0,688.8 1427.0,712.0 C1424.0,735.2 1423.7,772.0 1423.0,784.0 " fill="none" stroke="#fde68a" stroke-width="12.5" transform="translate(-12.5 0)"/><path d="M1458.0,576.0 C1455.2,587.5 1446.2,622.3 1441.0,645.0 C1435.8,667.7 1430.0,688.8 1427.0,712.0 C1424.0,735.2 1423.7,772.0 1423.0,784.0 " fill="none" stroke="#fffbe8" stroke-width="6.2" transform="translate(-13.0 0)"/><path d="M1458.0,576.0 C1455.2,587.5 1446.2,622.3 1441.0,645.0 C1435.8,667.7 1430.0,688.8 1427.0,712.0 C1424.0,735.2 1423.7,772.0 1423.0,784.0 " fill="none" stroke="#5a3808" stroke-width="4.3" transform="translate(-1.0 0)"/><path d="M1458.0,576.0 C1455.2,587.5 1446.2,622.3 1441.0,645.0 C1435.8,667.7 1430.0,688.8 1427.0,712.0 C1424.0,735.2 1423.7,772.0 1423.0,784.0 " fill="none" stroke="#f6d060" stroke-width="7.7" transform="translate(4.3 0)"/><path d="M1458.0,576.0 C1455.2,587.5 1446.2,622.3 1441.0,645.0 C1435.8,667.7 1430.0,688.8 1427.0,712.0 C1424.0,735.2 1423.7,772.0 1423.0,784.0 " fill="none" stroke="#fff0c0" stroke-width="3.4" transform="translate(4.8 0)"/><path d="M1458.0,576.0 C1455.2,587.5 1446.2,622.3 1441.0,645.0 C1435.8,667.7 1430.0,688.8 1427.0,712.0 C1424.0,735.2 1423.7,772.0 1423.0,784.0 " fill="none" stroke="#2e2a48" stroke-width="4.8" transform="translate(10.1 0)"/><path d="M1458.0,576.0 C1455.2,587.5 1446.2,622.3 1441.0,645.0 C1435.8,667.7 1430.0,688.8 1427.0,712.0 C1424.0,735.2 1423.7,772.0 1423.0,784.0 " fill="none" stroke="#e8b838" stroke-width="5.8" transform="translate(15.8 0)"/><path d="M1458.0,576.0 C1455.2,587.5 1446.2,622.3 1441.0,645.0 C1435.8,667.7 1430.0,688.8 1427.0,712.0 C1424.0,735.2 1423.7,772.0 1423.0,784.0 " fill="none" stroke="#6a4410" stroke-width="2.9" transform="translate(20.2 0)"/></g><ellipse cx="1458.0" cy="574.5" rx="26.5" ry="9.0" fill="#e8b838"/><ellipse cx="1458.0" cy="573.0" rx="24.5" ry="6.7" fill="url(#goldtip)"/><path d="M1725.0,581.0 C1722.0,592.0 1712.5,625.2 1707.0,647.0 C1701.5,668.8 1695.3,687.8 1692.0,712.0 C1688.7,736.2 1687.8,778.7 1687.0,792.0 " fill="none" stroke="#3a2204" stroke-width="48.0"/><g filter="url(#soft)"><path d="M1725.0,581.0 C1722.0,592.0 1712.5,625.2 1707.0,647.0 C1701.5,668.8 1695.3,687.8 1692.0,712.0 C1688.7,736.2 1687.8,778.7 1687.0,792.0 " fill="none" stroke="#a87418" stroke-width="43.2" transform="translate(-1.0 0)"/><path d="M1725.0,581.0 C1722.0,592.0 1712.5,625.2 1707.0,647.0 C1701.5,668.8 1695.3,687.8 1692.0,712.0 C1688.7,736.2 1687.8,778.7 1687.0,792.0 " fill="none" stroke="#f0c040" stroke-width="24.0" transform="translate(-9.6 0)"/><path d="M1725.0,581.0 C1722.0,592.0 1712.5,625.2 1707.0,647.0 C1701.5,668.8 1695.3,687.8 1692.0,712.0 C1688.7,736.2 1687.8,778.7 1687.0,792.0 " fill="none" stroke="#fde68a" stroke-width="12.5" transform="translate(-12.5 0)"/><path d="M1725.0,581.0 C1722.0,592.0 1712.5,625.2 1707.0,647.0 C1701.5,668.8 1695.3,687.8 1692.0,712.0 C1688.7,736.2 1687.8,778.7 1687.0,792.0 " fill="none" stroke="#fffbe8" stroke-width="6.2" transform="translate(-13.0 0)"/><path d="M1725.0,581.0 C1722.0,592.0 1712.5,625.2 1707.0,647.0 C1701.5,668.8 1695.3,687.8 1692.0,712.0 C1688.7,736.2 1687.8,778.7 1687.0,792.0 " fill="none" stroke="#5a3808" stroke-width="4.3" transform="translate(-1.0 0)"/><path d="M1725.0,581.0 C1722.0,592.0 1712.5,625.2 1707.0,647.0 C1701.5,668.8 1695.3,687.8 1692.0,712.0 C1688.7,736.2 1687.8,778.7 1687.0,792.0 " fill="none" stroke="#f6d060" stroke-width="7.7" transform="translate(4.3 0)"/><path d="M1725.0,581.0 C1722.0,592.0 1712.5,625.2 1707.0,647.0 C1701.5,668.8 1695.3,687.8 1692.0,712.0 C1688.7,736.2 1687.8,778.7 1687.0,792.0 " fill="none" stroke="#fff0c0" stroke-width="3.4" transform="translate(4.8 0)"/><path d="M1725.0,581.0 C1722.0,592.0 1712.5,625.2 1707.0,647.0 C1701.5,668.8 1695.3,687.8 1692.0,712.0 C1688.7,736.2 1687.8,778.7 1687.0,792.0 " fill="none" stroke="#2e2a48" stroke-width="4.8" transform="translate(10.1 0)"/><path d="M1725.0,581.0 C1722.0,592.0 1712.5,625.2 1707.0,647.0 C1701.5,668.8 1695.3,687.8 1692.0,712.0 C1688.7,736.2 1687.8,778.7 1687.0,792.0 " fill="none" stroke="#e8b838" stroke-width="5.8" transform="translate(15.8 0)"/><path d="M1725.0,581.0 C1722.0,592.0 1712.5,625.2 1707.0,647.0 C1701.5,668.8 1695.3,687.8 1692.0,712.0 C1688.7,736.2 1687.8,778.7 1687.0,792.0 " fill="none" stroke="#6a4410" stroke-width="2.9" transform="translate(20.2 0)"/></g><ellipse cx="1725.0" cy="579.5" rx="26.5" ry="9.0" fill="#e8b838"/><ellipse cx="1725.0" cy="578.0" rx="24.5" ry="6.7" fill="url(#goldtip)"/><path d="M1461.0,770.0 C1460.7,783.8 1460.5,826.3 1459.0,853.0 C1457.5,879.7 1455.2,903.8 1452.0,930.0 C1448.8,956.2 1444.0,985.8 1440.0,1010.0 C1436.0,1034.2 1432.5,1053.7 1428.0,1075.0 C1423.5,1096.3 1417.0,1117.2 1413.0,1138.0 C1409.0,1158.8 1406.5,1179.7 1404.0,1200.0 C1401.5,1220.3 1399.3,1238.3 1398.0,1260.0 C1396.7,1281.7 1396.3,1306.7 1396.0,1330.0 C1395.7,1353.3 1396.0,1388.3 1396.0,1400.0 L1445.0,1400.0 C1445.0,1383.3 1444.8,1333.3 1445.0,1300.0 C1445.2,1266.7 1444.8,1228.3 1446.0,1200.0 C1447.2,1171.7 1448.0,1150.0 1452.0,1130.0 C1456.0,1110.0 1462.0,1095.0 1470.0,1080.0 C1478.0,1065.0 1490.2,1054.5 1500.0,1040.0 C1509.8,1025.5 1523.0,1013.3 1529.0,993.0 C1535.0,972.7 1535.7,941.3 1536.0,918.0 C1536.3,894.7 1534.3,877.7 1531.0,853.0 C1527.7,828.3 1518.5,783.8 1516.0,770.0 Z" fill="url(#wht)"/><ellipse cx="1488.5" cy="770.0" rx="27.5" ry="8.5" fill="#f2f4f8"/><ellipse cx="1490.0" cy="770.5" rx="21.0" ry="6.0" fill="#4a4236"/><g clip-path="url(#hc1)"><path d="M1456.0,549.0 C1459.0,557.5 1469.2,579.8 1474.0,600.0 C1478.8,620.2 1482.7,646.7 1485.0,670.0 C1487.3,693.3 1487.2,722.7 1488.0,740.0 C1488.8,757.3 1489.7,768.3 1490.0,774.0 " fill="none" stroke="#2e1c04" stroke-width="46.0"/><g filter="url(#soft)"><path d="M1456.0,549.0 C1459.0,557.5 1469.2,579.8 1474.0,600.0 C1478.8,620.2 1482.7,646.7 1485.0,670.0 C1487.3,693.3 1487.2,722.7 1488.0,740.0 C1488.8,757.3 1489.7,768.3 1490.0,774.0 " fill="none" stroke="#8a5a10" stroke-width="40.5" transform="translate(-0.9 0)"/><path d="M1456.0,549.0 C1459.0,557.5 1469.2,579.8 1474.0,600.0 C1478.8,620.2 1482.7,646.7 1485.0,670.0 C1487.3,693.3 1487.2,722.7 1488.0,740.0 C1488.8,757.3 1489.7,768.3 1490.0,774.0 " fill="none" stroke="#e0a830" stroke-width="19.3" transform="translate(-8.3 0)"/><path d="M1456.0,549.0 C1459.0,557.5 1469.2,579.8 1474.0,600.0 C1478.8,620.2 1482.7,646.7 1485.0,670.0 C1487.3,693.3 1487.2,722.7 1488.0,740.0 C1488.8,757.3 1489.7,768.3 1490.0,774.0 " fill="none" stroke="#fcdc70" stroke-width="8.3" transform="translate(-10.1 0)"/><path d="M1456.0,549.0 C1459.0,557.5 1469.2,579.8 1474.0,600.0 C1478.8,620.2 1482.7,646.7 1485.0,670.0 C1487.3,693.3 1487.2,722.7 1488.0,740.0 C1488.8,757.3 1489.7,768.3 1490.0,774.0 " fill="none" stroke="#5a3a0a" stroke-width="4.6" transform="translate(-0.9 0)"/><path d="M1456.0,549.0 C1459.0,557.5 1469.2,579.8 1474.0,600.0 C1478.8,620.2 1482.7,646.7 1485.0,670.0 C1487.3,693.3 1487.2,722.7 1488.0,740.0 C1488.8,757.3 1489.7,768.3 1490.0,774.0 " fill="none" stroke="#e8b840" stroke-width="8.3" transform="translate(4.6 0)"/><path d="M1456.0,549.0 C1459.0,557.5 1469.2,579.8 1474.0,600.0 C1478.8,620.2 1482.7,646.7 1485.0,670.0 C1487.3,693.3 1487.2,722.7 1488.0,740.0 C1488.8,757.3 1489.7,768.3 1490.0,774.0 " fill="none" stroke="#fff0b0" stroke-width="3.2" transform="translate(5.1 0)"/><path d="M1456.0,549.0 C1459.0,557.5 1469.2,579.8 1474.0,600.0 C1478.8,620.2 1482.7,646.7 1485.0,670.0 C1487.3,693.3 1487.2,722.7 1488.0,740.0 C1488.8,757.3 1489.7,768.3 1490.0,774.0 " fill="none" stroke="#4a3a30" stroke-width="4.1" transform="translate(11.5 0)"/><path d="M1456.0,549.0 C1459.0,557.5 1469.2,579.8 1474.0,600.0 C1478.8,620.2 1482.7,646.7 1485.0,670.0 C1487.3,693.3 1487.2,722.7 1488.0,740.0 C1488.8,757.3 1489.7,768.3 1490.0,774.0 " fill="none" stroke="#c89028" stroke-width="4.6" transform="translate(16.1 0)"/><path d="M1456.0,549.0 C1459.0,557.5 1469.2,579.8 1474.0,600.0 C1478.8,620.2 1482.7,646.7 1485.0,670.0 C1487.3,693.3 1487.2,722.7 1488.0,740.0 C1488.8,757.3 1489.7,768.3 1490.0,774.0 " fill="none" stroke="#5a3a08" stroke-width="2.3" transform="translate(20.2 0)"/></g></g><path d="M1381.0,778.0 C1381.3,790.5 1381.5,832.7 1383.0,853.0 C1384.5,873.3 1387.3,887.0 1390.0,900.0 C1392.7,913.0 1394.0,915.0 1399.0,931.0 C1404.0,947.0 1414.3,977.5 1420.0,996.0 C1425.7,1014.5 1430.8,1034.3 1433.0,1042.0 L1440.0,1040.0 C1441.3,1031.7 1445.8,1008.2 1448.0,990.0 C1450.2,971.8 1451.2,949.5 1453.0,931.0 C1454.8,912.5 1457.8,895.8 1459.0,879.0 C1460.2,862.2 1459.7,846.8 1460.0,830.0 C1460.3,813.2 1460.8,786.7 1461.0,778.0 Z" fill="url(#grn)"/><ellipse cx="1421.0" cy="778.0" rx="40.0" ry="10.0" fill="#58cc6c"/><ellipse cx="1423.0" cy="779.0" rx="28.0" ry="7.0" fill="#14501e"/><g clip-path="url(#hc2)"><path d="M1458.0,576.0 C1455.2,587.5 1446.2,622.3 1441.0,645.0 C1435.8,667.7 1430.0,688.8 1427.0,712.0 C1424.0,735.2 1423.7,772.0 1423.0,784.0 " fill="none" stroke="#3a2204" stroke-width="48.0"/><g filter="url(#soft)"><path d="M1458.0,576.0 C1455.2,587.5 1446.2,622.3 1441.0,645.0 C1435.8,667.7 1430.0,688.8 1427.0,712.0 C1424.0,735.2 1423.7,772.0 1423.0,784.0 " fill="none" stroke="#a87418" stroke-width="43.2" transform="translate(-1.0 0)"/><path d="M1458.0,576.0 C1455.2,587.5 1446.2,622.3 1441.0,645.0 C1435.8,667.7 1430.0,688.8 1427.0,712.0 C1424.0,735.2 1423.7,772.0 1423.0,784.0 " fill="none" stroke="#f0c040" stroke-width="24.0" transform="translate(-9.6 0)"/><path d="M1458.0,576.0 C1455.2,587.5 1446.2,622.3 1441.0,645.0 C1435.8,667.7 1430.0,688.8 1427.0,712.0 C1424.0,735.2 1423.7,772.0 1423.0,784.0 " fill="none" stroke="#fde68a" stroke-width="12.5" transform="translate(-12.5 0)"/><path d="M1458.0,576.0 C1455.2,587.5 1446.2,622.3 1441.0,645.0 C1435.8,667.7 1430.0,688.8 1427.0,712.0 C1424.0,735.2 1423.7,772.0 1423.0,784.0 " fill="none" stroke="#fffbe8" stroke-width="6.2" transform="translate(-13.0 0)"/><path d="M1458.0,576.0 C1455.2,587.5 1446.2,622.3 1441.0,645.0 C1435.8,667.7 1430.0,688.8 1427.0,712.0 C1424.0,735.2 1423.7,772.0 1423.0,784.0 " fill="none" stroke="#5a3808" stroke-width="4.3" transform="translate(-1.0 0)"/><path d="M1458.0,576.0 C1455.2,587.5 1446.2,622.3 1441.0,645.0 C1435.8,667.7 1430.0,688.8 1427.0,712.0 C1424.0,735.2 1423.7,772.0 1423.0,784.0 " fill="none" stroke="#f6d060" stroke-width="7.7" transform="translate(4.3 0)"/><path d="M1458.0,576.0 C1455.2,587.5 1446.2,622.3 1441.0,645.0 C1435.8,667.7 1430.0,688.8 1427.0,712.0 C1424.0,735.2 1423.7,772.0 1423.0,784.0 " fill="none" stroke="#fff0c0" stroke-width="3.4" transform="translate(4.8 0)"/><path d="M1458.0,576.0 C1455.2,587.5 1446.2,622.3 1441.0,645.0 C1435.8,667.7 1430.0,688.8 1427.0,712.0 C1424.0,735.2 1423.7,772.0 1423.0,784.0 " fill="none" stroke="#2e2a48" stroke-width="4.8" transform="translate(10.1 0)"/><path d="M1458.0,576.0 C1455.2,587.5 1446.2,622.3 1441.0,645.0 C1435.8,667.7 1430.0,688.8 1427.0,712.0 C1424.0,735.2 1423.7,772.0 1423.0,784.0 " fill="none" stroke="#e8b838" stroke-width="5.8" transform="translate(15.8 0)"/><path d="M1458.0,576.0 C1455.2,587.5 1446.2,622.3 1441.0,645.0 C1435.8,667.7 1430.0,688.8 1427.0,712.0 C1424.0,735.2 1423.7,772.0 1423.0,784.0 " fill="none" stroke="#6a4410" stroke-width="2.9" transform="translate(20.2 0)"/></g></g><path d="M1500.0,625.0 C1500.8,637.5 1502.5,679.2 1505.0,700.0 C1507.5,720.8 1510.7,724.5 1515.0,750.0 C1519.3,775.5 1525.7,827.2 1531.0,853.0 C1536.3,878.8 1543.5,892.2 1547.0,905.0 C1550.5,917.8 1551.2,925.8 1552.0,930.0 L1556.0,930.0 C1556.7,925.8 1558.2,917.8 1560.0,905.0 C1561.8,892.2 1564.5,878.8 1567.0,853.0 C1569.5,827.2 1572.8,775.5 1575.0,750.0 C1577.2,724.5 1578.5,720.8 1580.0,700.0 C1581.5,679.2 1583.3,637.5 1584.0,625.0 Z" fill="url(#blu)"/><ellipse cx="1542.0" cy="624.0" rx="42.0" ry="11.0" fill="#6c8cff"/><ellipse cx="1543.0" cy="625.0" rx="30.0" ry="7.5" fill="#5a5c86"/><g clip-path="url(#hc3)"><path d="M1586.0,402.0 C1583.5,411.7 1576.0,439.5 1571.0,460.0 C1566.0,480.5 1560.2,505.0 1556.0,525.0 C1551.8,545.0 1548.2,562.8 1546.0,580.0 C1543.8,597.2 1543.5,620.0 1543.0,628.0 " fill="none" stroke="#3a2204" stroke-width="50.0"/><g filter="url(#soft)"><path d="M1586.0,402.0 C1583.5,411.7 1576.0,439.5 1571.0,460.0 C1566.0,480.5 1560.2,505.0 1556.0,525.0 C1551.8,545.0 1548.2,562.8 1546.0,580.0 C1543.8,597.2 1543.5,620.0 1543.0,628.0 " fill="none" stroke="#a87418" stroke-width="45.0" transform="translate(-1.0 0)"/><path d="M1586.0,402.0 C1583.5,411.7 1576.0,439.5 1571.0,460.0 C1566.0,480.5 1560.2,505.0 1556.0,525.0 C1551.8,545.0 1548.2,562.8 1546.0,580.0 C1543.8,597.2 1543.5,620.0 1543.0,628.0 " fill="none" stroke="#f0c040" stroke-width="25.0" transform="translate(-10.0 0)"/><path d="M1586.0,402.0 C1583.5,411.7 1576.0,439.5 1571.0,460.0 C1566.0,480.5 1560.2,505.0 1556.0,525.0 C1551.8,545.0 1548.2,562.8 1546.0,580.0 C1543.8,597.2 1543.5,620.0 1543.0,628.0 " fill="none" stroke="#fde68a" stroke-width="13.0" transform="translate(-13.0 0)"/><path d="M1586.0,402.0 C1583.5,411.7 1576.0,439.5 1571.0,460.0 C1566.0,480.5 1560.2,505.0 1556.0,525.0 C1551.8,545.0 1548.2,562.8 1546.0,580.0 C1543.8,597.2 1543.5,620.0 1543.0,628.0 " fill="none" stroke="#fffbe8" stroke-width="6.5" transform="translate(-13.5 0)"/><path d="M1586.0,402.0 C1583.5,411.7 1576.0,439.5 1571.0,460.0 C1566.0,480.5 1560.2,505.0 1556.0,525.0 C1551.8,545.0 1548.2,562.8 1546.0,580.0 C1543.8,597.2 1543.5,620.0 1543.0,628.0 " fill="none" stroke="#5a3808" stroke-width="4.5" transform="translate(-1.0 0)"/><path d="M1586.0,402.0 C1583.5,411.7 1576.0,439.5 1571.0,460.0 C1566.0,480.5 1560.2,505.0 1556.0,525.0 C1551.8,545.0 1548.2,562.8 1546.0,580.0 C1543.8,597.2 1543.5,620.0 1543.0,628.0 " fill="none" stroke="#f6d060" stroke-width="8.0" transform="translate(4.5 0)"/><path d="M1586.0,402.0 C1583.5,411.7 1576.0,439.5 1571.0,460.0 C1566.0,480.5 1560.2,505.0 1556.0,525.0 C1551.8,545.0 1548.2,562.8 1546.0,580.0 C1543.8,597.2 1543.5,620.0 1543.0,628.0 " fill="none" stroke="#fff0c0" stroke-width="3.5" transform="translate(5.0 0)"/><path d="M1586.0,402.0 C1583.5,411.7 1576.0,439.5 1571.0,460.0 C1566.0,480.5 1560.2,505.0 1556.0,525.0 C1551.8,545.0 1548.2,562.8 1546.0,580.0 C1543.8,597.2 1543.5,620.0 1543.0,628.0 " fill="none" stroke="#2e2a48" stroke-width="5.0" transform="translate(10.5 0)"/><path d="M1586.0,402.0 C1583.5,411.7 1576.0,439.5 1571.0,460.0 C1566.0,480.5 1560.2,505.0 1556.0,525.0 C1551.8,545.0 1548.2,562.8 1546.0,580.0 C1543.8,597.2 1543.5,620.0 1543.0,628.0 " fill="none" stroke="#e8b838" stroke-width="6.0" transform="translate(16.5 0)"/><path d="M1586.0,402.0 C1583.5,411.7 1576.0,439.5 1571.0,460.0 C1566.0,480.5 1560.2,505.0 1556.0,525.0 C1551.8,545.0 1548.2,562.8 1546.0,580.0 C1543.8,597.2 1543.5,620.0 1543.0,628.0 " fill="none" stroke="#6a4410" stroke-width="3.0" transform="translate(21.0 0)"/></g></g><path d="M1717.0,776.0 C1717.0,788.8 1717.7,831.5 1717.0,853.0 C1716.3,874.5 1715.3,887.2 1713.0,905.0 C1710.7,922.8 1705.7,944.2 1703.0,960.0 C1700.3,975.8 1696.7,986.7 1697.0,1000.0 C1697.3,1013.3 1698.7,1027.5 1705.0,1040.0 C1711.3,1052.5 1727.2,1066.7 1735.0,1075.0 C1742.8,1083.3 1749.2,1087.5 1752.0,1090.0 L1752.0,1090.0 C1753.2,1087.5 1756.2,1083.3 1759.0,1075.0 C1761.8,1066.7 1765.7,1052.5 1769.0,1040.0 C1772.3,1027.5 1776.0,1013.3 1779.0,1000.0 C1782.0,986.7 1784.7,975.8 1787.0,960.0 C1789.3,944.2 1791.5,922.8 1793.0,905.0 C1794.5,887.2 1795.5,874.5 1796.0,853.0 C1796.5,831.5 1796.0,788.8 1796.0,776.0 Z" fill="url(#wht)"/><ellipse cx="1756.5" cy="776.0" rx="39.5" ry="10.0" fill="#f2f4f8"/><ellipse cx="1756.0" cy="777.0" rx="27.0" ry="7.0" fill="#4a4236"/><g clip-path="url(#hc4)"><path d="M1718.0,553.0 C1720.3,562.3 1727.5,589.0 1732.0,609.0 C1736.5,629.0 1741.7,652.8 1745.0,673.0 C1748.3,693.2 1750.2,712.2 1752.0,730.0 C1753.8,747.8 1755.3,771.7 1756.0,780.0 " fill="none" stroke="#2e1c04" stroke-width="48.0"/><g filter="url(#soft)"><path d="M1718.0,553.0 C1720.3,562.3 1727.5,589.0 1732.0,609.0 C1736.5,629.0 1741.7,652.8 1745.0,673.0 C1748.3,693.2 1750.2,712.2 1752.0,730.0 C1753.8,747.8 1755.3,771.7 1756.0,780.0 " fill="none" stroke="#8a5a10" stroke-width="42.2" transform="translate(-1.0 0)"/><path d="M1718.0,553.0 C1720.3,562.3 1727.5,589.0 1732.0,609.0 C1736.5,629.0 1741.7,652.8 1745.0,673.0 C1748.3,693.2 1750.2,712.2 1752.0,730.0 C1753.8,747.8 1755.3,771.7 1756.0,780.0 " fill="none" stroke="#e0a830" stroke-width="20.2" transform="translate(-8.6 0)"/><path d="M1718.0,553.0 C1720.3,562.3 1727.5,589.0 1732.0,609.0 C1736.5,629.0 1741.7,652.8 1745.0,673.0 C1748.3,693.2 1750.2,712.2 1752.0,730.0 C1753.8,747.8 1755.3,771.7 1756.0,780.0 " fill="none" stroke="#fcdc70" stroke-width="8.6" transform="translate(-10.6 0)"/><path d="M1718.0,553.0 C1720.3,562.3 1727.5,589.0 1732.0,609.0 C1736.5,629.0 1741.7,652.8 1745.0,673.0 C1748.3,693.2 1750.2,712.2 1752.0,730.0 C1753.8,747.8 1755.3,771.7 1756.0,780.0 " fill="none" stroke="#5a3a0a" stroke-width="4.8" transform="translate(-1.0 0)"/><path d="M1718.0,553.0 C1720.3,562.3 1727.5,589.0 1732.0,609.0 C1736.5,629.0 1741.7,652.8 1745.0,673.0 C1748.3,693.2 1750.2,712.2 1752.0,730.0 C1753.8,747.8 1755.3,771.7 1756.0,780.0 " fill="none" stroke="#e8b840" stroke-width="8.6" transform="translate(4.8 0)"/><path d="M1718.0,553.0 C1720.3,562.3 1727.5,589.0 1732.0,609.0 C1736.5,629.0 1741.7,652.8 1745.0,673.0 C1748.3,693.2 1750.2,712.2 1752.0,730.0 C1753.8,747.8 1755.3,771.7 1756.0,780.0 " fill="none" stroke="#fff0b0" stroke-width="3.4" transform="translate(5.3 0)"/><path d="M1718.0,553.0 C1720.3,562.3 1727.5,589.0 1732.0,609.0 C1736.5,629.0 1741.7,652.8 1745.0,673.0 C1748.3,693.2 1750.2,712.2 1752.0,730.0 C1753.8,747.8 1755.3,771.7 1756.0,780.0 " fill="none" stroke="#4a3a30" stroke-width="4.3" transform="translate(12.0 0)"/><path d="M1718.0,553.0 C1720.3,562.3 1727.5,589.0 1732.0,609.0 C1736.5,629.0 1741.7,652.8 1745.0,673.0 C1748.3,693.2 1750.2,712.2 1752.0,730.0 C1753.8,747.8 1755.3,771.7 1756.0,780.0 " fill="none" stroke="#c89028" stroke-width="4.8" transform="translate(16.8 0)"/><path d="M1718.0,553.0 C1720.3,562.3 1727.5,589.0 1732.0,609.0 C1736.5,629.0 1741.7,652.8 1745.0,673.0 C1748.3,693.2 1750.2,712.2 1752.0,730.0 C1753.8,747.8 1755.3,771.7 1756.0,780.0 " fill="none" stroke="#5a3a08" stroke-width="2.4" transform="translate(21.1 0)"/></g></g><path d="M1653.0,792.0 C1652.7,802.2 1651.8,835.0 1651.0,853.0 C1650.2,871.0 1649.0,883.8 1648.0,900.0 C1647.0,916.2 1645.5,933.3 1645.0,950.0 C1644.5,966.7 1644.5,985.0 1645.0,1000.0 C1645.5,1015.0 1647.5,1033.3 1648.0,1040.0 L1700.0,1040.0 C1700.3,1033.3 1700.7,1015.0 1702.0,1000.0 C1703.3,985.0 1705.8,966.7 1708.0,950.0 C1710.2,933.3 1713.3,916.2 1715.0,900.0 C1716.7,883.8 1717.3,871.0 1718.0,853.0 C1718.7,835.0 1718.8,802.2 1719.0,792.0 Z" fill="url(#org2)"/><ellipse cx="1686.0" cy="792.0" rx="33.0" ry="9.0" fill="#f2bc4c"/><ellipse cx="1686.5" cy="793.0" rx="22.0" ry="6.0" fill="#7a4a14"/><g clip-path="url(#hc5)"><path d="M1725.0,581.0 C1722.0,592.0 1712.5,625.2 1707.0,647.0 C1701.5,668.8 1695.3,687.8 1692.0,712.0 C1688.7,736.2 1687.8,778.7 1687.0,792.0 " fill="none" stroke="#3a2204" stroke-width="48.0"/><g filter="url(#soft)"><path d="M1725.0,581.0 C1722.0,592.0 1712.5,625.2 1707.0,647.0 C1701.5,668.8 1695.3,687.8 1692.0,712.0 C1688.7,736.2 1687.8,778.7 1687.0,792.0 " fill="none" stroke="#a87418" stroke-width="43.2" transform="translate(-1.0 0)"/><path d="M1725.0,581.0 C1722.0,592.0 1712.5,625.2 1707.0,647.0 C1701.5,668.8 1695.3,687.8 1692.0,712.0 C1688.7,736.2 1687.8,778.7 1687.0,792.0 " fill="none" stroke="#f0c040" stroke-width="24.0" transform="translate(-9.6 0)"/><path d="M1725.0,581.0 C1722.0,592.0 1712.5,625.2 1707.0,647.0 C1701.5,668.8 1695.3,687.8 1692.0,712.0 C1688.7,736.2 1687.8,778.7 1687.0,792.0 " fill="none" stroke="#fde68a" stroke-width="12.5" transform="translate(-12.5 0)"/><path d="M1725.0,581.0 C1722.0,592.0 1712.5,625.2 1707.0,647.0 C1701.5,668.8 1695.3,687.8 1692.0,712.0 C1688.7,736.2 1687.8,778.7 1687.0,792.0 " fill="none" stroke="#fffbe8" stroke-width="6.2" transform="translate(-13.0 0)"/><path d="M1725.0,581.0 C1722.0,592.0 1712.5,625.2 1707.0,647.0 C1701.5,668.8 1695.3,687.8 1692.0,712.0 C1688.7,736.2 1687.8,778.7 1687.0,792.0 " fill="none" stroke="#5a3808" stroke-width="4.3" transform="translate(-1.0 0)"/><path d="M1725.0,581.0 C1722.0,592.0 1712.5,625.2 1707.0,647.0 C1701.5,668.8 1695.3,687.8 1692.0,712.0 C1688.7,736.2 1687.8,778.7 1687.0,792.0 " fill="none" stroke="#f6d060" stroke-width="7.7" transform="translate(4.3 0)"/><path d="M1725.0,581.0 C1722.0,592.0 1712.5,625.2 1707.0,647.0 C1701.5,668.8 1695.3,687.8 1692.0,712.0 C1688.7,736.2 1687.8,778.7 1687.0,792.0 " fill="none" stroke="#fff0c0" stroke-width="3.4" transform="translate(4.8 0)"/><path d="M1725.0,581.0 C1722.0,592.0 1712.5,625.2 1707.0,647.0 C1701.5,668.8 1695.3,687.8 1692.0,712.0 C1688.7,736.2 1687.8,778.7 1687.0,792.0 " fill="none" stroke="#2e2a48" stroke-width="4.8" transform="translate(10.1 0)"/><path d="M1725.0,581.0 C1722.0,592.0 1712.5,625.2 1707.0,647.0 C1701.5,668.8 1695.3,687.8 1692.0,712.0 C1688.7,736.2 1687.8,778.7 1687.0,792.0 " fill="none" stroke="#e8b838" stroke-width="5.8" transform="translate(15.8 0)"/><path d="M1725.0,581.0 C1722.0,592.0 1712.5,625.2 1707.0,647.0 C1701.5,668.8 1695.3,687.8 1692.0,712.0 C1688.7,736.2 1687.8,778.7 1687.0,792.0 " fill="none" stroke="#6a4410" stroke-width="2.9" transform="translate(20.2 0)"/></g></g><path d="M1533,890 L1542,886 L1541,935 L1533,938 Z" fill="#8a6a3a" opacity="0.8"/><path d="M1531,945 L1546,940 L1546,995 L1531,998 Z" fill="#9aa0aa" opacity="0.9"/><path d="M1439,1032 L1531,993 L1531,1250 L1550,1330 L1550,1400 L1439,1400 Z" fill="url(#sepL)"/><path d="M1439,1032 L1531,993 L1531,999 L1452,1036 Z" fill="#f6f7fa" opacity="0.9"/><path d="M1440,1034 L1455,1028 L1455,1400 L1440,1400 Z" fill="#f3f5fb"/><path d="M1440.5,1034 L1440.5,1400" stroke="#9aa0b0" stroke-width="1.6" opacity="0.7"/><path d="M1734,1028 L1746,1032 L1746,1400 L1734,1400 Z" fill="#f1f3f9"/><path d="M1650,992 L1746,1032 L1746,1400 L1650,1400 Z" fill="url(#sepR)"/><path d="M1752.0,1060.0 C1751.2,1066.7 1748.3,1083.3 1747.0,1100.0 C1745.7,1116.7 1744.3,1135.0 1744.0,1160.0 C1743.7,1185.0 1744.7,1221.7 1745.0,1250.0 C1745.3,1278.3 1745.7,1305.0 1746.0,1330.0 C1746.3,1355.0 1746.8,1388.3 1747.0,1400.0 L1792.0,1400.0 C1792.0,1388.3 1792.5,1355.0 1792.0,1330.0 C1791.5,1305.0 1791.2,1278.3 1789.0,1250.0 C1786.8,1221.7 1782.2,1185.0 1779.0,1160.0 C1775.8,1135.0 1773.5,1116.7 1770.0,1100.0 C1766.5,1083.3 1760.0,1066.7 1758.0,1060.0 Z" fill="url(#org)"/><path d="M1634.0,900.0 C1632.0,910.0 1626.2,941.7 1622.0,960.0 C1617.8,978.3 1613.0,993.3 1609.0,1010.0 C1605.0,1026.7 1601.0,1043.3 1598.0,1060.0 C1595.0,1076.7 1592.7,1093.3 1591.0,1110.0 C1589.3,1126.7 1589.0,1140.0 1588.0,1160.0 C1587.0,1180.0 1586.7,1206.7 1585.0,1230.0 C1583.3,1253.3 1581.3,1277.5 1578.0,1300.0 C1574.7,1322.5 1568.0,1348.3 1565.0,1365.0 C1562.0,1381.7 1560.8,1394.2 1560.0,1400.0 L1645.0,1400.0 C1645.8,1394.2 1647.2,1381.7 1650.0,1365.0 C1652.8,1348.3 1659.3,1322.5 1662.0,1300.0 C1664.7,1277.5 1665.0,1253.3 1666.0,1230.0 C1667.0,1206.7 1668.0,1180.0 1668.0,1160.0 C1668.0,1140.0 1667.3,1126.7 1666.0,1110.0 C1664.7,1093.3 1662.2,1076.7 1660.0,1060.0 C1657.8,1043.3 1654.7,1026.7 1653.0,1010.0 C1651.3,993.3 1652.2,978.3 1650.0,960.0 C1647.8,941.7 1641.7,910.0 1640.0,900.0 Z" fill="url(#blu)"/><path d="M1584.0,614.0 C1583.3,628.3 1582.0,664.3 1580.0,700.0 C1578.0,735.7 1575.8,798.0 1572.0,828.0 C1568.2,858.0 1562.2,862.8 1557.0,880.0 C1551.8,897.2 1545.8,913.8 1541.0,931.0 C1536.2,948.2 1531.8,965.7 1528.0,983.0 C1524.2,1000.3 1521.0,1017.8 1518.0,1035.0 C1515.0,1052.2 1511.7,1068.8 1510.0,1086.0 C1508.3,1103.2 1508.0,1120.7 1508.0,1138.0 C1508.0,1155.3 1509.3,1171.3 1510.0,1190.0 C1510.7,1208.7 1510.7,1231.7 1512.0,1250.0 C1513.3,1268.3 1514.2,1281.7 1518.0,1300.0 C1521.8,1318.3 1531.3,1343.3 1535.0,1360.0 C1538.7,1376.7 1539.2,1393.3 1540.0,1400.0 L1565.0,1400.0 C1565.5,1393.3 1565.2,1376.7 1568.0,1360.0 C1570.8,1343.3 1579.0,1318.3 1582.0,1300.0 C1585.0,1281.7 1585.2,1268.3 1586.0,1250.0 C1586.8,1231.7 1586.2,1208.7 1587.0,1190.0 C1587.8,1171.3 1589.5,1155.3 1591.0,1138.0 C1592.5,1120.7 1593.8,1103.2 1596.0,1086.0 C1598.2,1068.8 1600.2,1052.2 1604.0,1035.0 C1607.8,1017.8 1613.8,1000.3 1619.0,983.0 C1624.2,965.7 1630.2,948.2 1635.0,931.0 C1639.8,913.8 1644.0,897.2 1648.0,880.0 C1652.0,862.8 1656.0,858.0 1659.0,828.0 C1662.0,798.0 1664.5,735.7 1666.0,700.0 C1667.5,664.3 1667.7,628.3 1668.0,614.0 Z" fill="url(#wht)"/><ellipse cx="1626.0" cy="614.0" rx="42.0" ry="10.5" fill="#f2f4f8"/><ellipse cx="1625.0" cy="615.0" rx="28.0" ry="6.5" fill="#4a4236"/><g clip-path="url(#hc6)"><path d="M1581.0,378.0 C1583.5,388.3 1591.2,419.7 1596.0,440.0 C1600.8,460.3 1606.0,480.0 1610.0,500.0 C1614.0,520.0 1617.5,540.7 1620.0,560.0 C1622.5,579.3 1624.2,606.7 1625.0,616.0 " fill="none" stroke="#2e1c04" stroke-width="50.0"/><g filter="url(#soft)"><path d="M1581.0,378.0 C1583.5,388.3 1591.2,419.7 1596.0,440.0 C1600.8,460.3 1606.0,480.0 1610.0,500.0 C1614.0,520.0 1617.5,540.7 1620.0,560.0 C1622.5,579.3 1624.2,606.7 1625.0,616.0 " fill="none" stroke="#8a5a10" stroke-width="44.0" transform="translate(-1.0 0)"/><path d="M1581.0,378.0 C1583.5,388.3 1591.2,419.7 1596.0,440.0 C1600.8,460.3 1606.0,480.0 1610.0,500.0 C1614.0,520.0 1617.5,540.7 1620.0,560.0 C1622.5,579.3 1624.2,606.7 1625.0,616.0 " fill="none" stroke="#e0a830" stroke-width="21.0" transform="translate(-9.0 0)"/><path d="M1581.0,378.0 C1583.5,388.3 1591.2,419.7 1596.0,440.0 C1600.8,460.3 1606.0,480.0 1610.0,500.0 C1614.0,520.0 1617.5,540.7 1620.0,560.0 C1622.5,579.3 1624.2,606.7 1625.0,616.0 " fill="none" stroke="#fcdc70" stroke-width="9.0" transform="translate(-11.0 0)"/><path d="M1581.0,378.0 C1583.5,388.3 1591.2,419.7 1596.0,440.0 C1600.8,460.3 1606.0,480.0 1610.0,500.0 C1614.0,520.0 1617.5,540.7 1620.0,560.0 C1622.5,579.3 1624.2,606.7 1625.0,616.0 " fill="none" stroke="#5a3a0a" stroke-width="5.0" transform="translate(-1.0 0)"/><path d="M1581.0,378.0 C1583.5,388.3 1591.2,419.7 1596.0,440.0 C1600.8,460.3 1606.0,480.0 1610.0,500.0 C1614.0,520.0 1617.5,540.7 1620.0,560.0 C1622.5,579.3 1624.2,606.7 1625.0,616.0 " fill="none" stroke="#e8b840" stroke-width="9.0" transform="translate(5.0 0)"/><path d="M1581.0,378.0 C1583.5,388.3 1591.2,419.7 1596.0,440.0 C1600.8,460.3 1606.0,480.0 1610.0,500.0 C1614.0,520.0 1617.5,540.7 1620.0,560.0 C1622.5,579.3 1624.2,606.7 1625.0,616.0 " fill="none" stroke="#fff0b0" stroke-width="3.5" transform="translate(5.5 0)"/><path d="M1581.0,378.0 C1583.5,388.3 1591.2,419.7 1596.0,440.0 C1600.8,460.3 1606.0,480.0 1610.0,500.0 C1614.0,520.0 1617.5,540.7 1620.0,560.0 C1622.5,579.3 1624.2,606.7 1625.0,616.0 " fill="none" stroke="#4a3a30" stroke-width="4.5" transform="translate(12.5 0)"/><path d="M1581.0,378.0 C1583.5,388.3 1591.2,419.7 1596.0,440.0 C1600.8,460.3 1606.0,480.0 1610.0,500.0 C1614.0,520.0 1617.5,540.7 1620.0,560.0 C1622.5,579.3 1624.2,606.7 1625.0,616.0 " fill="none" stroke="#c89028" stroke-width="5.0" transform="translate(17.5 0)"/><path d="M1581.0,378.0 C1583.5,388.3 1591.2,419.7 1596.0,440.0 C1600.8,460.3 1606.0,480.0 1610.0,500.0 C1614.0,520.0 1617.5,540.7 1620.0,560.0 C1622.5,579.3 1624.2,606.7 1625.0,616.0 " fill="none" stroke="#5a3a08" stroke-width="2.5" transform="translate(22.0 0)"/></g></g><g clip-path="url(#orgtop)"><path d="M1653.0,792.0 C1652.7,802.2 1651.8,835.0 1651.0,853.0 C1650.2,871.0 1649.0,883.8 1648.0,900.0 C1647.0,916.2 1645.5,933.3 1645.0,950.0 C1644.5,966.7 1644.5,985.0 1645.0,1000.0 C1645.5,1015.0 1647.5,1033.3 1648.0,1040.0 L1700.0,1040.0 C1700.3,1033.3 1700.7,1015.0 1702.0,1000.0 C1703.3,985.0 1705.8,966.7 1708.0,950.0 C1710.2,933.3 1713.3,916.2 1715.0,900.0 C1716.7,883.8 1717.3,871.0 1718.0,853.0 C1718.7,835.0 1718.8,802.2 1719.0,792.0 Z" fill="url(#org2)"/><ellipse cx="1686.0" cy="792.0" rx="33.0" ry="9.0" fill="#f2bc4c"/><ellipse cx="1686.5" cy="793.0" rx="22.0" ry="6.0" fill="#7a4a14"/><g clip-path="url(#hc5)"><path d="M1725.0,581.0 C1722.0,592.0 1712.5,625.2 1707.0,647.0 C1701.5,668.8 1695.3,687.8 1692.0,712.0 C1688.7,736.2 1687.8,778.7 1687.0,792.0 " fill="none" stroke="#3a2204" stroke-width="48.0"/><g filter="url(#soft)"><path d="M1725.0,581.0 C1722.0,592.0 1712.5,625.2 1707.0,647.0 C1701.5,668.8 1695.3,687.8 1692.0,712.0 C1688.7,736.2 1687.8,778.7 1687.0,792.0 " fill="none" stroke="#a87418" stroke-width="43.2" transform="translate(-1.0 0)"/><path d="M1725.0,581.0 C1722.0,592.0 1712.5,625.2 1707.0,647.0 C1701.5,668.8 1695.3,687.8 1692.0,712.0 C1688.7,736.2 1687.8,778.7 1687.0,792.0 " fill="none" stroke="#f0c040" stroke-width="24.0" transform="translate(-9.6 0)"/><path d="M1725.0,581.0 C1722.0,592.0 1712.5,625.2 1707.0,647.0 C1701.5,668.8 1695.3,687.8 1692.0,712.0 C1688.7,736.2 1687.8,778.7 1687.0,792.0 " fill="none" stroke="#fde68a" stroke-width="12.5" transform="translate(-12.5 0)"/><path d="M1725.0,581.0 C1722.0,592.0 1712.5,625.2 1707.0,647.0 C1701.5,668.8 1695.3,687.8 1692.0,712.0 C1688.7,736.2 1687.8,778.7 1687.0,792.0 " fill="none" stroke="#fffbe8" stroke-width="6.2" transform="translate(-13.0 0)"/><path d="M1725.0,581.0 C1722.0,592.0 1712.5,625.2 1707.0,647.0 C1701.5,668.8 1695.3,687.8 1692.0,712.0 C1688.7,736.2 1687.8,778.7 1687.0,792.0 " fill="none" stroke="#5a3808" stroke-width="4.3" transform="translate(-1.0 0)"/><path d="M1725.0,581.0 C1722.0,592.0 1712.5,625.2 1707.0,647.0 C1701.5,668.8 1695.3,687.8 1692.0,712.0 C1688.7,736.2 1687.8,778.7 1687.0,792.0 " fill="none" stroke="#f6d060" stroke-width="7.7" transform="translate(4.3 0)"/><path d="M1725.0,581.0 C1722.0,592.0 1712.5,625.2 1707.0,647.0 C1701.5,668.8 1695.3,687.8 1692.0,712.0 C1688.7,736.2 1687.8,778.7 1687.0,792.0 " fill="none" stroke="#fff0c0" stroke-width="3.4" transform="translate(4.8 0)"/><path d="M1725.0,581.0 C1722.0,592.0 1712.5,625.2 1707.0,647.0 C1701.5,668.8 1695.3,687.8 1692.0,712.0 C1688.7,736.2 1687.8,778.7 1687.0,792.0 " fill="none" stroke="#2e2a48" stroke-width="4.8" transform="translate(10.1 0)"/><path d="M1725.0,581.0 C1722.0,592.0 1712.5,625.2 1707.0,647.0 C1701.5,668.8 1695.3,687.8 1692.0,712.0 C1688.7,736.2 1687.8,778.7 1687.0,792.0 " fill="none" stroke="#e8b838" stroke-width="5.8" transform="translate(15.8 0)"/><path d="M1725.0,581.0 C1722.0,592.0 1712.5,625.2 1707.0,647.0 C1701.5,668.8 1695.3,687.8 1692.0,712.0 C1688.7,736.2 1687.8,778.7 1687.0,792.0 " fill="none" stroke="#6a4410" stroke-width="2.9" transform="translate(20.2 0)"/></g></g></g><g clip-path="url(#rwup)"><path d="M1717.0,776.0 C1717.0,788.8 1717.7,831.5 1717.0,853.0 C1716.3,874.5 1715.3,887.2 1713.0,905.0 C1710.7,922.8 1705.7,944.2 1703.0,960.0 C1700.3,975.8 1696.7,986.7 1697.0,1000.0 C1697.3,1013.3 1698.7,1027.5 1705.0,1040.0 C1711.3,1052.5 1727.2,1066.7 1735.0,1075.0 C1742.8,1083.3 1749.2,1087.5 1752.0,1090.0 L1752.0,1090.0 C1753.2,1087.5 1756.2,1083.3 1759.0,1075.0 C1761.8,1066.7 1765.7,1052.5 1769.0,1040.0 C1772.3,1027.5 1776.0,1013.3 1779.0,1000.0 C1782.0,986.7 1784.7,975.8 1787.0,960.0 C1789.3,944.2 1791.5,922.8 1793.0,905.0 C1794.5,887.2 1795.5,874.5 1796.0,853.0 C1796.5,831.5 1796.0,788.8 1796.0,776.0 Z" fill="url(#wht)"/></g><g clip-path="url(#jclip)"><rect x="1390" y="1262" width="410" height="113" fill="url(#opensh)"/><rect x="1390" y="1180" width="410" height="200" fill="url(#opensh2)" mask="url(#vfade)"/></g><g mask="url(#tmask)" clip-path="url(#tclip)"><path d="M1356,1273 L1376,2000 L1815,2000 L1830,1273 Z" fill="url(#tube)"/><ellipse cx="1593" cy="1273" rx="237" ry="114" fill="url(#rim)"/><ellipse cx="1593" cy="1273" rx="237" ry="114" fill="url(#rimv)" opacity="0.4"/><path d="M1357,1280 A237,114 0 0 0 1829,1280" fill="none" stroke="#ff8aa6" stroke-width="3" opacity="0.55"/><ellipse cx="1593" cy="1270" rx="201" ry="98" fill="none" stroke="#e81848" stroke-width="4"/></g>
<g class="lb" style="font-size:85px" stroke="#fff" stroke-width="3" stroke-linejoin="round">
<text x="306" y="158" style="fill:#fbe32a" stroke="#fbe32a" textLength="469" lengthAdjust="spacingAndGlyphs">MATERIAL</text>
<text x="805" y="158" textLength="62" lengthAdjust="spacingAndGlyphs">&amp;</text>
<text x="897" y="158" textLength="796" lengthAdjust="spacingAndGlyphs">CONFIGURATION</text>
</g>
<g class="lb" style="font-size:44px" stroke="#fff" stroke-width="0.7">
<text x="314" y="664" textLength="777" lengthAdjust="spacing">UNSHIELDED TWISTED PAIR (UTP)</text>
<text x="626" y="894" textLength="426" lengthAdjust="spacing">HDPE INSULATION</text>
<text x="76" y="1138" textLength="510" lengthAdjust="spacing">24AWG COPPER CLAD</text>
<text x="76" y="1191.6" textLength="501" lengthAdjust="spacing">ALUMINIUM (0.50MM)</text>
<text x="75" y="1412.6" textLength="445" lengthAdjust="spacing">CROSS SEPARATOR</text>
<text x="203" y="1680" textLength="510" lengthAdjust="spacing">FLEXIBLE PVC JACKET</text>
</g>
<line x1="1134" y1="648.6" x2="1394" y2="648.6" stroke="#fff" stroke-width="3.4"/>
<circle cx="1394" cy="648.6" r="14" fill="#fff"/><circle cx="1394" cy="648.6" r="7.6" fill="#3b7ef2"/>
<line x1="1095" y1="879.4" x2="1356" y2="879.4" stroke="#fff" stroke-width="3.4"/>
<circle cx="1356" cy="879.4" r="14" fill="#fff"/><circle cx="1356" cy="879.4" r="7.6" fill="#3b7ef2"/>
<line x1="642" y1="1182.5" x2="933" y2="1182.5" stroke="#fff" stroke-width="3.4"/>
<circle cx="933" cy="1182.5" r="14" fill="#fff"/><circle cx="933" cy="1182.5" r="7.6" fill="#3b7ef2"/>
<line x1="564" y1="1397.2" x2="825" y2="1397.2" stroke="#fff" stroke-width="3.4"/>
<circle cx="825" cy="1397.2" r="14" fill="#fff"/><circle cx="825" cy="1397.2" r="7.6" fill="#3b7ef2"/>
<line x1="758" y1="1665" x2="1340" y2="1665" stroke="#fff" stroke-width="3.4"/>
<circle cx="1340" cy="1665" r="14" fill="#fff"/><circle cx="1340" cy="1665" r="7.6" fill="#3b7ef2"/>
<rect x="1791" y="1917.8" width="11" height="8.4" rx="2.5" fill="#1a7cff"/><rect x="1791" y="1930.8" width="11" height="8" rx="2.5" fill="#1a7cff"/><path d="M1805.6,1910 Q1805.6,1903.4 1812,1903.4 L1824,1903.4 A20,25 0 0 1 1824,1953.7 L1812,1953.7 Q1805.6,1953.7 1805.6,1947 Z" fill="url(#logo)"/><rect x="1854" y="1876" width="38" height="78" rx="19" fill="url(#logo)"/><rect x="1904" y="1855" width="38" height="99" rx="19" fill="url(#logo)"/><path d="M1842,1934 C1847,1922 1851,1906 1856,1893" stroke="#2a70ff" stroke-width="2.4" fill="none"/><path d="M1890,1938 C1896,1920 1900,1898 1906,1878" stroke="#3455fa" stroke-width="2.4" fill="none"/>
</svg>
</body></html>
